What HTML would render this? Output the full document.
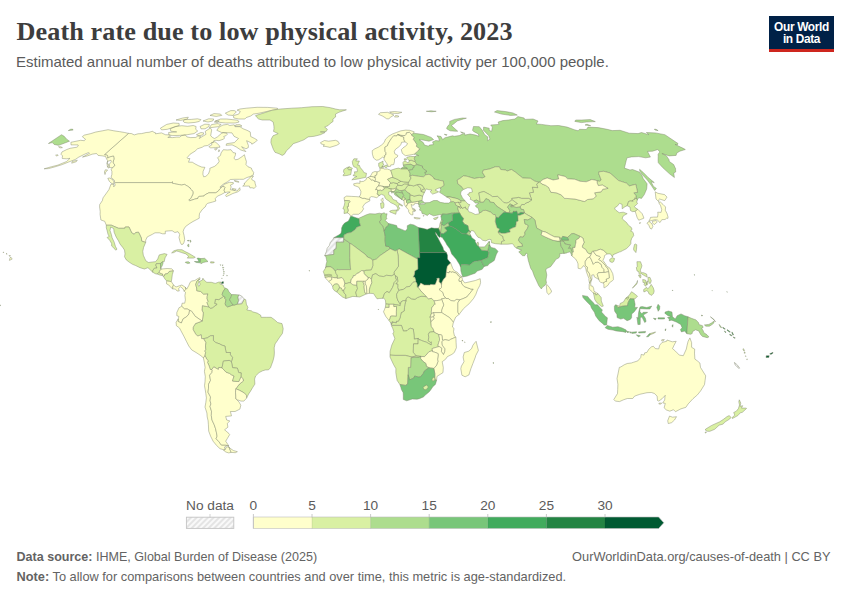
<!DOCTYPE html>
<html lang="en">
<head>
<meta charset="utf-8">
<title>Death rate due to low physical activity, 2023</title>
<style>
html,body{margin:0;padding:0;background:#fff;}
body{width:850px;height:600px;position:relative;overflow:hidden;font-family:"Liberation Sans",sans-serif;color:#5b5b5b;}
#title{position:absolute;left:16.5px;top:14.6px;font-family:"Liberation Serif",serif;font-weight:bold;font-size:26.2px;line-height:34px;color:#3d3d3d;white-space:nowrap;letter-spacing:0.1px;}
#sub{position:absolute;left:16px;top:52.7px;font-size:15px;line-height:18px;color:#5b5b5b;white-space:nowrap;}
#logo{position:absolute;left:769px;top:16px;width:65px;height:36px;background:#002147;border-bottom:3px solid #ce261e;box-sizing:border-box;color:#fff;font-weight:bold;font-size:11.9px;line-height:12px;text-align:center;padding-top:5px;letter-spacing:-0.35px;}
#map{position:absolute;left:0;top:0;}
.ft{position:absolute;font-size:12.8px;line-height:16px;white-space:nowrap;color:#636363;}
.ft b{font-weight:bold;}
</style>
</head>
<body>
<svg id="map" width="850" height="600" viewBox="0 0 850 600">
<defs>
<pattern id="h" width="4" height="4" patternUnits="userSpaceOnUse" patternTransform="rotate(45)"><rect width="4" height="4" fill="#f9f9f9"/><line x1="1" y1="0" x2="1" y2="4" stroke="#d6d6d6" stroke-width="1.2"/></pattern>
</defs>
<g stroke="#7d846a" stroke-width="0.45" stroke-linejoin="round">
<path fill="#ffffcc" d="M128.5,133.4L131.6,133.6L134.2,134.9L138.0,133.8L141.6,133.6L146.2,132.5L149.0,132.3L152.7,131.2L153.4,132.1L155.7,132.9L155.5,133.8L161.5,132.9L165.4,134.7L169.4,134.9L170.6,136.3L167.8,137.4L172.7,137.6L176.5,137.1L179.9,137.1L181.2,135.8L185.3,134.9L186.9,136.9L190.6,137.6L195.9,137.4L198.0,135.8L200.8,136.5L199.2,138.5L201.7,136.9L206.0,134.3L205.2,131.4L209.1,128.8L210.5,128.2L211.7,129.9L211.1,133.2L210.7,135.8L212.7,137.6L214.6,138.5L217.4,136.9L221.2,133.6L223.1,132.7L226.9,133.2L227.3,134.3L225.8,135.8L223.7,136.5L224.6,138.0L223.5,139.2L219.0,140.7L215.9,140.3L213.8,140.7L213.7,142.1L211.3,143.0L207.8,145.5L204.0,146.0L202.3,147.2L197.5,148.8L195.0,151.2L190.1,154.2L187.1,157.8L187.7,158.5L189.9,158.5L188.5,162.2L192.3,162.2L195.0,163.9L198.7,165.8L201.8,167.1L204.9,167.3L203.1,171.3L202.9,174.3L203.7,176.8L205.9,176.3L208.5,173.8L209.9,170.0L209.8,168.3L214.7,166.3L217.5,163.9L219.1,161.5L218.5,159.0L217.4,157.8L220.5,155.4L221.0,153.0L223.3,149.7L227.3,150.0L231.0,149.7L233.1,152.6L235.6,153.0L235.3,155.4L234.0,158.1L235.4,159.8L238.0,159.3L242.1,156.6L244.4,154.7L245.2,157.8L246.4,161.5L246.0,164.6L248.0,166.8L251.4,168.1L252.0,170.0L253.7,172.5L253.2,175.0L250.8,176.3L247.0,177.5L243.4,179.3L239.4,179.3L234.5,179.3L230.4,179.5L227.5,181.8L223.8,183.8L220.0,186.9L220.4,187.7L224.7,184.1L229.3,182.3L233.3,182.6L233.3,183.8L230.4,185.1L231.0,186.4L231.0,187.7L230.3,189.7L232.8,190.2L235.7,190.7L237.1,191.0L239.7,187.7L240.2,190.2L237.4,192.0L232.8,193.5L229.2,195.3L226.3,196.6L225.6,195.3L227.0,193.8L230.2,192.0L228.1,192.0L226.0,192.3L224.9,192.5L224.5,191.2L223.8,190.7L224.9,187.4L224.2,186.6L222.4,186.6L219.9,188.9L218.5,190.7L217.2,192.0L215.5,192.8L208.9,192.8L206.9,193.8L204.5,195.1L204.0,196.1L199.1,196.4L198.2,197.1L197.9,198.4L194.5,199.2L189.7,200.8L188.7,200.0L190.5,198.7L191.1,197.7L192.9,194.1L193.0,191.8L191.7,190.0L190.4,188.9L190.1,187.9L187.4,186.1L184.3,184.3L181.7,185.1L179.3,184.6L176.1,184.1L174.4,183.6L172.3,183.3L172.4,181.8L171.4,182.6L115.5,182.6L114.8,183.3L114.2,180.0L111.0,177.5L111.9,174.3L111.9,171.3L111.0,169.3L112.8,167.6L114.9,165.1L113.4,163.2L113.0,162.2L114.0,159.0L113.8,157.3L113.6,156.1L110.8,156.6L107.5,158.1L107.8,155.9L107.2,155.2L104.4,154.7L128.5,133.4ZM113.5,184.1L111.1,183.1L109.3,181.3L107.8,178.3L109.6,178.0L112.5,179.5L113.9,181.8ZM105.0,174.5L104.4,172.0L105.3,169.8L107.6,170.0L105.6,172.3ZM242.7,186.1L245.0,183.8L244.0,183.8L248.6,178.8L251.4,176.3L253.5,176.0L251.6,178.8L252.2,180.0L254.8,181.3L255.2,183.6L256.0,186.4L254.2,188.4L252.0,187.7L249.9,187.9L249.4,186.1L246.3,186.1ZM232.4,188.4L236.2,189.2L234.9,190.2L232.0,189.4ZM234.3,180.3L238.7,181.6L238.8,182.3L234.7,181.3ZM245.9,151.6L240.8,150.0L236.2,146.9L232.1,144.9L226.0,145.3L226.6,143.7L234.3,142.6L238.5,138.5L234.0,136.3L232.0,132.9L227.2,132.7L221.6,132.5L216.8,130.3L219.0,127.1L223.0,125.0L227.5,124.4L229.8,125.5L234.2,124.8L235.1,126.7L239.9,126.7L243.2,128.8L247.0,130.3L250.2,131.9L250.5,134.0L250.7,136.5L254.7,138.5L257.3,140.1L255.4,142.1L251.8,144.2L251.5,143.0L246.6,140.7L248.4,145.5L248.3,147.6L245.9,148.8L241.6,146.7L244.6,150.2ZM168.8,134.7L172.1,135.6L179.9,135.4L187.2,134.7L194.1,133.6L197.7,131.0L195.7,129.3L196.1,126.5L193.2,125.5L187.5,126.3L181.8,125.7L175.3,126.5L170.2,128.8L170.8,131.2L176.7,131.9L168.6,132.5ZM160.4,128.2L161.6,129.9L167.3,129.3L179.2,125.5L179.1,123.4L173.3,123.0L166.7,124.4ZM183.0,121.0L184.2,122.4L188.2,123.0L195.1,122.4L199.4,121.4L200.9,119.6L197.4,118.8L191.3,119.4L184.9,119.6ZM239.1,122.0L235.1,123.0L225.7,123.0L220.0,122.4L215.3,121.0L220.6,119.0L226.7,119.0L232.2,119.6L237.7,120.2ZM244.9,119.0L238.8,119.0L233.8,118.0L233.4,115.6L238.7,114.1L240.3,111.5L237.1,110.1L239.9,109.0L246.4,108.2L257.1,107.3L267.8,107.4L277.3,108.2L278.0,109.0L271.9,110.3L266.6,111.5L259.2,113.2L253.3,114.1L250.7,116.0L246.2,117.6ZM232.9,115.4L228.2,115.1L225.3,113.2L230.8,110.6L234.3,110.6L236.4,111.8ZM209.3,127.8L218.3,126.7L221.2,124.4L217.3,123.6L211.5,124.6ZM200.1,126.5L201.0,128.8L205.1,128.8L208.9,126.5L209.3,124.4L204.8,124.2ZM196.4,134.7L198.9,135.8L203.0,134.9L203.8,132.9L200.9,132.5ZM211.7,142.6L214.9,141.7L216.6,143.0L219.3,145.5L220.0,147.2L215.3,147.6L210.7,147.9L208.8,146.7L211.8,144.9ZM203.0,121.0L208.0,122.0L212.7,121.0L213.8,119.0L208.7,118.8ZM176.0,120.0L180.7,120.4L187.3,119.0L188.3,117.2L182.7,118.0ZM210.0,115.4L216.2,116.4L221.8,115.4L220.5,114.1L214.0,113.6ZM214.2,122.0L217.5,122.6L219.2,121.0L216.3,120.8ZM235.8,124.8L239.9,124.6L242.0,126.1L238.6,126.3L234.8,126.1ZM214.5,148.8L217.4,148.6L215.4,150.2ZM219.0,149.7L219.6,151.2L218.4,151.6Z"/>
<path fill="#ffffcc" d="M115.5,182.6L171.4,182.6L172.4,181.8L172.3,183.3L174.4,183.6L176.1,184.1L179.3,184.6L181.7,185.1L184.3,184.3L187.4,186.1L190.1,187.9L190.4,188.9L191.7,190.0L193.0,191.8L192.9,194.1L191.1,197.7L190.5,198.7L188.7,200.0L189.7,200.8L194.5,199.2L197.9,198.4L198.2,197.1L199.1,196.4L204.0,196.1L204.5,195.1L206.9,193.8L208.9,192.8L215.5,192.8L217.2,192.0L218.5,190.7L219.9,188.9L222.4,186.6L224.2,186.6L224.9,187.4L223.8,190.7L224.5,191.2L224.9,192.5L221.1,194.6L217.5,196.1L215.2,198.7L215.9,201.0L212.4,202.1L207.8,203.3L206.4,204.4L205.2,207.0L202.9,208.8L201.3,210.9L199.5,213.5L199.2,216.1L199.3,218.2L196.8,219.5L193.0,221.5L189.9,223.4L185.6,226.5L183.9,229.1L183.1,231.7L184.1,235.6L184.7,239.6L183.9,242.7L183.0,244.2L181.4,244.5L180.2,242.2L179.0,237.5L179.7,234.3L178.0,231.7L174.9,232.5L172.1,230.7L168.7,230.9L165.3,231.2L165.3,233.8L162.5,233.8L159.4,232.8L155.0,232.8L152.4,234.3L147.3,236.9L145.7,240.1L145.7,242.4L141.7,241.1L141.4,238.2L140.0,235.1L138.5,232.2L135.7,232.5L134.2,234.3L131.7,232.8L129.0,227.0L125.2,227.0L124.8,228.3L118.6,228.3L111.3,225.2L106.3,225.2L104.7,221.3L100.9,220.0L100.1,214.5L100.2,211.4L99.6,207.0L99.7,204.6L102.4,200.5L103.0,197.9L108.9,189.7L111.0,184.1L113.9,184.6L113.7,186.9L115.2,185.1L114.8,183.3ZM128.5,133.4L124.7,132.5L119.3,131.6L113.9,130.8L108.1,129.7L102.4,130.8L95.5,132.1L90.8,133.6L84.4,135.1L82.4,136.5L83.7,138.0L85.5,139.2L84.3,140.7L80.6,140.3L70.9,142.3L71.0,144.9L78.0,144.9L78.3,146.0L76.9,147.2L70.1,148.3L66.8,149.5L62.0,151.9L60.9,154.2L62.6,155.9L62.2,157.8L62.3,158.5L66.7,158.8L70.0,158.3L66.6,161.5L57.9,165.1L51.2,166.8L44.1,168.8L48.5,168.6L55.1,166.8L62.2,164.6L68.9,161.9L75.2,159.5L78.8,157.1L84.7,154.2L88.4,152.6L89.5,153.3L82.5,157.1L87.5,155.9L92.1,154.2L96.5,153.5L98.1,155.4L102.3,155.9L105.5,156.4L106.6,159.0L107.7,160.7L107.1,163.4L107.3,166.3L110.1,167.6L112.8,167.6L114.9,165.1L113.4,163.2L113.0,162.2L114.0,159.0L113.8,157.3L113.6,156.1L110.8,156.6L107.5,158.1L107.8,155.9L107.2,155.2L104.4,154.7L128.5,133.4ZM58.5,146.7L59.9,147.9L62.4,147.6L60.6,146.7ZM72.2,161.5L77.3,160.2L76.3,161.7L71.7,163.2ZM57.6,154.7L58.2,155.4L56.5,155.9L55.6,155.2ZM111.0,160.2L111.3,161.9L109.1,164.4L107.1,163.9L107.4,161.5ZM109.3,164.6L109.6,166.3L108.7,168.1L107.3,167.1ZM9.4,260.4L12.2,259.1L10.7,257.0L9.9,258.3ZM9.0,255.5L10.5,255.7L9.5,256.3ZM6.0,253.9L7.1,254.2L6.6,253.4ZM3.0,252.3L3.7,252.1L3.5,252.9Z"/>
<path fill="#d9f0a3" d="M255.5,115.6L265.8,112.3L271.9,110.3L280.1,109.0L291.8,108.2L301.7,107.7L311.9,106.7L322.7,106.5L330.4,107.7L335.5,109.0L339.5,109.8L346.4,109.8L338.9,112.3L335.5,114.1L335.6,117.0L332.9,119.0L333.1,121.4L330.3,123.4L328.2,125.5L324.7,127.1L327.4,129.3L326.2,131.4L320.3,131.9L325.1,132.5L320.5,134.7L314.2,136.3L308.1,136.9L303.9,139.8L298.0,142.1L293.2,143.7L290.3,147.2L286.5,150.7L284.4,154.2L282.2,155.4L279.1,153.8L275.0,152.3L273.4,149.5L272.1,146.0L270.9,142.6L271.2,139.2L273.0,135.8L278.2,133.6L273.5,131.4L274.0,128.8L273.9,126.1L273.2,122.0L270.0,120.0L262.3,120.0L258.6,119.0L256.9,117.4Z"/>
<path fill="#d9f0a3" d="M106.3,225.2L111.3,225.2L118.6,228.3L124.8,228.3L125.2,227.0L129.0,227.0L131.7,232.8L134.2,234.3L135.7,232.5L138.5,232.2L140.0,235.1L141.4,238.2L141.7,241.1L145.7,242.4L143.6,247.4L142.8,251.3L143.3,255.2L144.7,258.3L145.9,260.9L148.6,262.5L152.1,262.0L155.5,261.7L157.7,259.1L159.2,254.9L164.5,253.6L167.1,254.4L165.1,257.8L164.2,261.7L162.8,261.7L160.8,263.0L160.5,263.6L156.4,263.6L155.8,265.1L157.0,268.0L154.3,268.3L152.9,270.3L152.7,272.2L150.0,269.6L147.9,267.7L144.4,269.0L140.0,267.7L135.7,265.6L132.5,264.3L129.4,262.3L126.3,259.9L124.5,256.8L125.0,253.9L124.5,250.0L122.7,247.4L120.0,244.0L118.5,240.9L116.1,236.9L114.1,232.2L113.7,228.6L110.7,227.0L110.0,230.4L111.3,234.3L112.1,237.7L114.2,242.2L115.5,246.6L117.0,249.2L115.7,250.2L115.0,249.2L111.7,246.1L111.6,243.5L109.7,240.3L107.1,237.5L109.2,236.4L108.0,234.3L107.2,230.9L106.3,227.8Z"/>
<path fill="#d9f0a3" d="M152.7,272.2L155.3,273.7L157.3,274.1L159.0,272.4L159.6,271.1L159.7,270.6L161.9,269.0L160.6,268.5L160.5,263.6L156.4,263.6L155.8,265.1L157.0,268.0L154.3,268.3L152.9,270.3Z"/>
<path fill="#addd8e" d="M160.5,263.6L160.8,263.0L162.8,261.7L163.1,263.0L162.3,265.6L160.6,268.5Z"/>
<path fill="#d9f0a3" d="M157.3,274.1L159.7,275.0L162.4,275.6L162.8,274.0L161.0,273.5L159.0,272.4Z"/>
<path fill="#ffffcc" d="M159.6,271.1L159.0,272.4L161.0,273.5L162.8,274.0L162.4,275.6L163.3,276.1L164.2,276.1L165.1,274.0L167.4,273.7L169.4,271.4L173.4,270.9L173.0,270.1L171.7,268.8L167.2,268.5L163.8,268.8L161.9,269.0L159.7,270.6Z"/>
<path fill="#d9f0a3" d="M163.3,276.3L163.3,276.1L164.2,276.1L165.1,274.0L167.4,273.7L169.4,271.4L173.4,270.9L172.3,274.8L171.8,278.7L171.3,281.6L169.1,281.3L166.8,281.0L165.1,279.2Z"/>
<path fill="#ffffcc" d="M166.8,281.0L169.1,281.3L171.3,281.6L173.6,285.0L172.9,286.3L172.7,288.9L171.2,287.8L168.8,285.0L166.6,283.9L166.5,281.6Z"/>
<path fill="#ffffcc" d="M172.7,288.9L172.9,286.3L173.6,285.0L176.0,287.0L179.6,285.7L181.9,285.0L185.4,287.3L185.8,289.4L184.1,291.2L183.1,288.9L180.6,286.8L178.5,288.6L179.3,291.0L177.0,291.0L175.5,289.1Z"/>
<path fill="#d9f0a3" d="M171.6,252.9L173.9,250.8L177.5,249.7L182.0,249.7L185.1,251.6L188.3,253.1L191.5,254.9L195.3,257.3L193.4,258.1L187.3,258.1L188.6,256.3L185.9,253.9L181.6,252.6L178.8,251.6L176.6,251.0L173.7,252.6Z"/>
<path fill="#addd8e" d="M185.5,262.0L188.4,261.7L190.1,263.0L187.8,263.6L185.4,262.5Z"/>
<path fill="#78c679" d="M194.4,261.5L196.3,262.5L199.7,262.8L200.4,262.3L200.6,258.6L198.4,258.1L197.0,258.3L198.2,259.9L198.9,261.5Z"/>
<path fill="#addd8e" d="M200.6,258.6L204.7,258.3L208.0,261.5L205.4,262.0L203.1,262.5L200.9,263.8L200.4,262.3Z"/>
<path fill="#d9f0a3" d="M210.7,261.7L214.3,262.0L213.7,263.0L210.6,263.0Z"/>
<path fill="#addd8e" d="M187.9,244.5L188.8,244.2L188.9,246.9L187.6,246.1ZM187.2,240.6L189.2,240.3L189.1,241.1ZM190.2,240.1L191.1,240.9L190.4,242.4Z"/>
<path fill="#005a32" d="M221.2,283.6L222.0,281.8L223.6,281.8L223.3,283.6Z"/>
<path fill="#d9f0a3" d="M244.2,299.0L245.8,299.8L246.4,304.3L248.0,307.4L246.8,310.0L251.4,310.8L252.6,311.8L257.2,313.1L260.7,315.2L261.1,317.3L266.4,317.3L271.1,317.3L274.5,319.7L277.6,322.5L282.0,323.6L283.2,328.8L282.4,333.5L279.5,337.4L277.3,340.8L275.1,343.9L274.2,347.8L274.4,353.1L274.1,356.4L273.0,360.9L271.1,366.1L270.7,367.4L268.6,369.8L265.2,370.0L262.6,370.8L259.1,372.6L255.6,376.0L254.6,379.1L254.9,384.1L252.5,387.8L250.4,391.4L248.6,394.0L246.6,398.1L246.4,395.3L244.5,393.2L242.0,391.7L239.6,390.4L235.8,388.8L239.4,384.1L243.4,381.0L242.9,378.6L240.9,376.8L241.2,372.9L238.7,372.6L237.4,368.2L232.6,367.7L231.4,361.7L232.6,357.5L230.4,354.9L230.4,352.5L226.1,352.5L224.9,346.0L221.9,345.2L219.6,343.9L215.8,342.6L213.4,340.5L213.4,335.6L210.4,335.8L207.3,337.9L203.7,338.6L201.6,338.7L201.2,334.8L197.6,336.1L195.6,334.0L193.1,329.6L193.2,327.2L195.4,323.6L202.3,321.0L203.3,312.9L201.9,310.0L202.1,308.4L202.4,305.6L208.8,306.9L210.4,308.2L212.2,307.9L217.1,304.3L214.6,303.5L215.4,299.3L218.8,299.6L223.5,296.4L225.1,297.0L224.8,298.3L226.0,299.8L225.2,303.5L225.6,305.3L227.7,306.9L233.0,305.0L234.4,305.0L237.6,304.0L241.8,303.7Z"/>
<path fill="#ffffcc" d="M185.4,287.3L186.7,289.1L188.7,285.7L190.1,282.3L191.8,281.0L194.8,280.5L197.6,278.7L200.0,277.6L199.9,279.2L198.3,279.7L197.0,281.0L195.7,284.4L196.7,288.1L196.8,290.7L200.7,291.5L203.6,294.1L207.9,293.8L207.2,296.2L207.1,298.8L208.2,301.4L207.0,302.7L208.8,306.9L202.4,305.6L202.1,308.4L201.9,310.0L203.3,312.9L202.3,321.0L200.4,319.9L195.2,316.3L191.7,311.3L189.6,310.3L187.3,309.0L184.6,309.0L181.6,306.3L182.1,303.2L184.7,303.2L185.4,299.8L184.9,295.6L185.5,292.3L184.1,291.2L185.8,289.4Z"/>
<path fill="#d9f0a3" d="M199.9,279.2L198.4,280.8L199.3,281.6L202.4,280.0L202.9,278.2L204.0,280.0L206.8,282.3L211.4,282.3L215.2,283.4L218.8,282.1L221.3,282.1L219.8,283.9L223.2,285.2L224.2,287.8L225.4,288.1L223.7,290.7L222.7,292.5L222.2,294.6L223.5,296.4L218.8,299.6L215.4,299.3L214.6,303.5L217.1,304.3L212.2,307.9L210.4,308.2L208.8,306.9L207.0,302.7L208.2,301.4L207.1,298.8L207.2,296.2L207.9,293.8L203.6,294.1L200.7,291.5L196.8,290.7L196.7,288.1L195.7,284.4L197.0,281.0L198.3,279.7Z"/>
<path fill="#ffffff" d="M199.1,281.6L199.9,283.1L200.0,285.0L198.8,286.3L198.0,285.0L198.3,282.9Z"/>
<path fill="#addd8e" d="M222.2,264.9L223.1,264.9L222.6,265.6ZM222.5,267.2L223.8,267.5L223.1,268.3ZM223.0,269.3L223.6,269.6L223.4,270.3ZM223.5,271.4L224.4,271.6L223.9,272.4ZM223.6,273.5L224.3,273.7L223.8,274.3ZM226.7,275.3L227.4,275.6L226.9,276.1ZM223.0,275.0L223.5,275.3L223.2,275.8ZM221.7,278.2L222.2,278.2L221.9,278.7ZM220.2,264.6L220.8,264.9L220.6,265.4Z"/>
<path fill="#addd8e" d="M225.4,288.1L227.6,289.1L229.1,292.0L231.6,294.6L231.3,296.4L229.6,299.6L230.5,301.4L233.0,305.0L227.7,306.9L225.6,305.3L225.2,303.5L226.0,299.8L224.8,298.3L225.1,297.0L223.5,296.4L222.2,294.6L222.7,292.5L223.7,290.7Z"/>
<path fill="#addd8e" d="M231.6,294.6L234.6,294.6L239.0,294.9L238.0,297.0L238.6,300.6L237.6,304.0L234.4,305.0L233.0,305.0L230.5,301.4L229.6,299.6L231.3,296.4Z"/>
<path fill="url(#h)" d="M239.0,294.9L241.5,295.9L244.2,299.0L241.8,303.7L237.6,304.0L238.6,300.6L238.0,297.0Z"/>
<path fill="#ffffcc" d="M181.6,306.3L184.6,309.0L187.3,309.0L189.6,310.3L189.0,313.9L186.5,316.8L183.1,318.9L181.4,323.0L178.1,321.5L178.3,318.9L178.9,316.5L176.8,315.7L176.8,312.6L178.6,308.7L178.8,307.9Z"/>
<path fill="#ffffcc" d="M178.3,318.9L178.1,321.5L181.4,323.0L183.1,318.9L186.5,316.8L189.0,313.9L189.6,310.3L191.7,311.3L195.2,316.3L200.4,319.9L202.3,321.0L195.4,323.6L193.2,327.2L193.1,329.6L195.6,334.0L197.6,336.1L201.2,334.8L201.6,338.7L203.7,338.6L206.0,342.6L205.5,345.7L205.8,349.7L204.8,351.0L205.6,352.3L205.0,355.7L203.4,357.9L200.9,355.7L197.0,353.1L191.7,349.9L188.8,346.0L186.4,341.3L183.8,336.1L181.0,330.9L179.5,328.0L176.4,325.7L176.1,322.3Z"/>
<path fill="#d9f0a3" d="M203.7,338.6L207.3,337.9L210.4,335.8L213.4,335.6L213.4,340.5L215.8,342.6L219.6,343.9L221.9,345.2L224.9,346.0L226.1,352.5L230.4,352.5L230.4,354.9L232.6,357.5L231.4,361.7L229.2,360.4L223.4,361.1L222.0,367.9L218.8,367.4L218.4,369.5L213.8,366.9L211.8,369.5L210.2,369.5L209.2,366.1L207.5,362.4L208.2,360.6L206.7,359.3L205.2,355.9L205.0,355.7L205.6,352.3L204.8,351.0L205.8,349.7L205.5,345.7L206.0,342.6Z"/>
<path fill="#ffffcc" d="M203.4,357.9L204.3,362.2L205.1,367.4L204.4,371.3L205.3,376.5L205.0,381.8L204.5,385.7L205.2,389.6L205.8,393.5L206.4,397.9L205.8,402.6L205.0,407.1L206.9,413.0L207.2,416.9L208.1,420.8L208.4,424.7L208.7,431.1L210.6,436.2L213.1,441.2L216.6,445.5L220.0,448.7L224.5,450.0L225.2,449.5L224.4,447.2L226.5,445.7L228.7,445.7L225.2,445.0L221.3,445.0L218.9,441.7L216.1,438.7L217.1,436.2L216.5,432.9L215.5,428.5L214.2,424.7L212.0,420.0L211.3,415.6L211.5,411.2L210.0,406.5L210.9,403.9L210.1,400.8L210.5,396.9L208.0,392.2L208.5,388.3L208.5,384.4L210.5,380.4L209.6,375.2L211.9,372.6L212.3,370.0L211.8,369.5L210.2,369.5L209.2,366.1L207.5,362.4L208.2,360.6L206.7,359.3L205.2,355.9L205.0,355.7ZM228.7,446.7L226.1,447.0L225.5,449.2L223.5,450.0L225.4,451.9L228.7,452.9L231.2,452.4Z"/>
<path fill="#ffffcc" d="M212.3,370.0L211.9,372.6L209.6,375.2L210.5,380.4L208.5,384.4L208.5,388.3L208.0,392.2L210.5,396.9L210.1,400.8L210.9,403.9L210.0,406.5L211.5,411.2L211.3,415.6L212.0,420.0L214.2,424.7L215.5,428.5L216.5,432.9L217.1,436.2L216.1,438.7L218.9,441.7L221.3,445.0L225.2,445.0L228.7,445.7L225.7,441.2L227.5,438.2L229.7,434.6L229.0,433.6L224.6,429.8L227.9,427.2L227.3,423.4L229.8,421.0L226.7,420.0L225.7,416.4L231.5,415.9L230.4,411.5L235.1,411.5L239.9,409.1L240.8,405.2L239.1,402.1L235.8,398.7L235.8,396.1L235.5,392.2L235.8,388.8L239.4,384.1L243.4,381.0L242.9,378.6L240.9,376.8L238.8,381.5L237.2,381.5L232.5,381.0L234.1,376.0L231.3,374.7L229.6,373.4L226.0,372.1L222.0,367.9L218.8,367.4L218.4,369.5L213.8,366.9L211.8,369.5ZM228.7,446.7L229.9,448.2L233.4,450.5L237.4,451.7L235.3,452.7L231.2,452.4Z"/>
<path fill="#ffffcc" d="M235.8,388.8L239.6,390.4L242.0,391.7L244.5,393.2L246.4,395.3L246.6,398.1L243.9,401.1L241.0,401.1L237.3,399.8L235.8,398.7L235.8,396.1L235.5,392.2Z"/>
<path fill="#d9f0a3" d="M222.0,367.9L223.4,361.1L229.2,360.4L231.4,361.7L232.6,367.7L237.4,368.2L238.7,372.6L241.2,372.9L240.9,376.8L238.8,381.5L237.2,381.5L232.5,381.0L234.1,376.0L231.3,374.7L229.6,373.4L226.0,372.1Z"/>
<path fill="#addd8e" d="M413.1,133.2L418.2,133.8L423.5,134.5L431.2,137.4L433.6,139.6L429.0,141.2L421.7,139.8L419.0,139.6L423.3,142.6L424.5,145.1L428.7,146.2L429.3,145.1L433.5,144.6L432.6,141.9L435.7,140.5L439.3,141.0L438.7,138.0L437.0,135.8L441.0,136.5L442.7,139.6L444.9,137.8L452.5,135.8L454.4,136.3L459.2,135.6L463.9,133.4L464.5,132.9L464.8,135.1L470.1,134.0L475.7,135.1L478.9,136.3L478.4,134.0L473.5,131.4L472.5,130.3L473.5,126.5L479.3,126.7L482.3,130.3L484.7,134.7L487.8,136.9L487.5,140.7L490.0,139.2L488.8,135.8L483.5,130.3L483.6,127.1L489.2,128.2L489.2,130.3L491.6,131.4L492.4,127.1L490.7,125.0L498.9,124.4L498.2,122.0L502.9,120.6L508.4,120.0L514.9,119.0L517.9,116.6L524.2,118.0L524.5,119.4L533.1,119.0L538.0,121.0L536.3,124.0L541.5,124.4L550.9,125.7L558.6,125.5L567.1,127.1L574.3,129.7L578.1,130.8L579.5,129.3L586.3,129.5L588.0,127.1L598.2,127.6L607.1,129.3L612.2,130.6L620.1,130.3L629.2,133.2L638.1,133.6L641.5,132.5L648.9,134.7L646.4,132.5L655.4,132.9L664.9,134.7L678.0,143.5L677.4,144.9L675.0,144.4L683.2,148.3L685.3,149.5L679.8,151.2L676.8,153.0L676.1,155.4L669.3,155.9L661.9,153.5L666.3,155.7L669.4,160.2L668.7,161.0L673.7,164.6L675.0,167.6L675.5,168.1L675.7,172.0L673.7,173.0L674.4,177.5L669.5,173.8L662.7,167.6L658.3,162.7L658.1,160.7L658.2,156.6L658.1,154.2L659.8,151.9L657.8,149.5L652.6,151.2L647.5,151.4L650.4,157.1L645.6,157.8L638.7,156.6L631.6,156.9L627.0,157.8L626.2,160.7L625.4,163.9L624.4,168.1L630.0,170.0L632.5,169.5L639.1,172.0L641.7,175.0L643.3,178.8L647.1,183.8L646.7,188.9L644.3,194.6L641.5,198.4L638.7,197.7L637.4,199.7L637.1,199.5L636.3,198.2L635.8,195.3L633.8,192.8L637.6,192.3L635.8,184.3L629.3,185.9L626.4,183.1L618.6,180.6L610.0,173.0L603.8,171.3L598.9,171.8L598.7,173.5L601.2,180.0L599.7,181.3L597.0,180.6L591.9,179.5L586.3,181.8L580.0,181.3L574.8,179.3L567.5,178.8L565.2,176.5L557.8,174.8L558.7,179.0L553.2,180.0L547.2,178.0L543.0,179.5L539.8,182.1L538.9,182.3L534.7,181.1L530.4,178.3L522.7,178.0L515.0,171.8L511.4,169.5L507.3,171.0L505.4,170.0L500.7,169.5L499.3,166.8L495.3,166.8L489.5,169.0L483.5,170.0L482.4,172.3L485.1,176.8L482.3,178.0L479.4,177.5L474.3,178.5L467.1,176.3L463.4,175.8L460.0,178.5L457.2,180.0L457.8,183.8L461.4,186.4L463.6,189.4L461.0,191.5L460.6,194.1L462.5,197.9L465.2,201.0L461.0,200.8L457.4,198.7L454.1,197.9L449.7,196.9L446.6,196.9L443.1,194.6L439.5,192.3L441.0,188.9L439.9,188.4L441.1,187.4L443.9,185.4L443.4,181.1L439.3,180.3L434.0,179.0L433.5,177.5L431.1,175.5L429.1,174.3L425.8,174.8L424.6,172.3L427.0,171.5L422.6,168.1L422.4,166.1L416.9,164.6L415.8,162.9L414.8,161.5L414.9,160.7L414.2,158.3L415.0,156.6L416.6,155.4L418.8,155.7L415.6,154.2L414.1,154.2L417.5,151.4L419.6,148.8L416.4,146.5L416.7,144.2L414.6,141.2L413.1,139.2L414.2,137.6L411.2,134.9L411.8,134.7L413.1,133.2ZM61.5,134.7L64.2,136.3L66.7,139.2L69.5,141.2L59.3,145.1L58.1,145.3L54.1,144.4L52.3,142.6L48.4,143.5ZM401.1,169.0L401.7,167.8L403.9,166.8L407.1,167.8L407.3,169.0ZM446.7,128.8L450.1,130.8L455.3,131.2L457.7,131.2L453.1,127.1L451.4,125.5L454.2,123.6L457.2,121.0L463.3,119.0L466.4,118.2L462.5,118.0L454.5,119.4L449.7,121.4L449.8,124.0L448.2,125.5L446.9,127.6ZM501.5,114.1L510.5,115.4L517.3,115.1L512.9,112.9L505.2,111.5L497.0,110.6L494.5,112.0ZM574.8,121.4L581.4,122.6L586.6,122.0L595.3,121.6L590.2,119.6L581.8,120.0L575.7,120.0ZM585.0,125.0L590.7,125.7L587.0,124.2ZM655.2,130.1L658.1,130.6L655.9,129.3L654.3,129.3ZM68.3,130.6L73.1,130.1L72.5,129.1L70.5,129.3ZM654.7,190.5L656.4,188.4L653.5,186.4L651.0,181.8L654.3,182.6L648.2,177.5L643.3,172.5L639.6,169.3L639.8,171.3L642.7,175.0L647.3,180.0L651.1,185.1ZM426.3,111.3L431.6,111.8L436.2,111.3L430.9,110.8ZM444.3,134.3L447.0,134.7L446.4,135.4ZM460.6,131.9L463.5,132.7L462.1,133.2Z"/>
<path fill="#ffffcc" d="M320.5,142.6L324.4,140.5L328.6,141.2L335.6,140.3L338.1,141.4L339.4,143.7L336.7,145.3L329.9,147.4L326.0,146.5L323.0,146.2L324.5,144.9L321.1,143.9Z"/>
<path fill="#d9f0a3" d="M351.8,179.8L356.2,179.3L361.2,178.3L365.8,177.3L366.5,173.3L363.8,172.5L363.0,170.8L360.3,167.6L359.2,165.1L357.5,165.1L359.4,161.0L355.7,161.0L357.4,158.8L353.9,158.8L352.3,161.5L352.7,164.4L353.8,166.8L356.7,167.8L357.4,170.3L357.2,171.8L354.4,171.8L354.8,173.8L352.9,175.5L356.9,176.5L354.7,177.3ZM347.5,168.8L349.2,166.8L352.4,168.3L351.4,169.8L348.7,169.8Z"/>
<path fill="#d9f0a3" d="M343.4,175.8L347.0,175.5L350.8,174.5L351.3,171.3L351.4,169.8L348.7,169.8L347.5,168.8L349.2,166.8L346.8,167.6L343.8,169.5L343.5,171.8L344.5,173.8L342.9,175.0Z"/>
<path fill="#ffffcc" d="M359.4,196.9L360.7,194.1L360.9,191.2L358.7,187.1L353.9,185.4L353.7,183.8L357.1,183.1L360.0,183.3L359.8,180.8L361.2,181.6L363.6,181.3L366.2,179.5L366.6,177.8L368.2,177.3L369.2,178.0L371.6,180.0L372.8,179.8L374.8,181.3L376.0,181.3L379.7,182.6L378.6,186.1L377.4,186.6L375.7,189.7L377.1,189.2L377.6,190.5L377.6,192.3L377.1,194.1L379.2,195.1L378.8,195.9L376.8,197.7L373.6,196.9L371.5,196.6L369.7,197.7L369.7,199.5L366.8,199.2L364.7,198.4L362.2,198.4ZM381.2,199.5L382.8,197.9L383.2,200.5L382.6,202.1L381.3,200.8Z"/>
<path fill="#ffffcc" d="M359.4,196.9L355.9,196.6L351.7,196.4L346.5,196.1L344.0,197.7L344.5,200.5L346.0,200.5L349.3,200.8L350.1,201.5L348.6,203.1L348.3,206.5L347.2,206.7L348.2,210.3L347.3,212.9L349.4,214.0L350.2,215.6L351.1,216.1L353.5,214.3L358.5,214.3L361.7,211.9L363.6,208.8L362.6,207.0L364.9,203.6L369.9,200.8L369.7,199.5L366.8,199.2L364.7,198.4L362.2,198.4Z"/>
<path fill="#d9f0a3" d="M344.5,200.5L346.0,200.5L349.3,200.8L350.1,201.5L348.6,203.1L348.3,206.5L347.2,206.7L348.2,210.3L347.3,212.9L344.0,213.5L344.4,209.6L342.9,208.8L344.3,205.2L344.8,202.6Z"/>
<path fill="#ffffcc" d="M368.2,177.3L369.9,176.5L371.7,176.5L374.7,177.0L374.9,178.0L375.6,178.8L375.4,179.8L374.8,181.3L372.8,179.8L371.6,180.0L369.2,178.0Z"/>
<path fill="#ffffcc" d="M369.9,176.5L371.1,175.0L372.4,172.5L374.9,171.5L377.2,171.8L377.0,174.0L376.4,175.3L375.0,175.5L375.3,177.5L374.9,178.0L374.7,177.0L371.7,176.5Z"/>
<path fill="#ffffcc" d="M377.2,171.8L379.7,171.0L380.1,170.0L379.8,167.8L382.3,168.1L384.5,169.0L387.4,169.0L390.8,170.3L391.3,172.0L392.2,174.8L393.0,177.5L391.6,177.5L387.6,179.3L388.2,180.3L391.0,183.1L389.5,184.3L389.6,186.4L384.6,186.6L382.7,186.4L380.5,185.9L378.6,186.1L379.7,182.6L376.0,181.3L374.8,181.3L375.4,179.8L375.6,178.8L374.9,178.0L375.3,177.5L375.0,175.5L376.4,175.3L377.0,174.0Z"/>
<path fill="#d9f0a3" d="M379.8,167.8L378.7,166.1L378.7,163.2L381.1,162.2L383.1,161.0L382.8,163.6L383.9,164.1L382.4,166.3L381.7,167.6L382.3,168.1ZM384.4,165.8L387.0,164.9L387.4,166.6L386.3,167.8L384.7,167.1ZM382.0,166.3L383.7,166.3L383.8,167.3L382.4,167.3Z"/>
<path fill="#ffffcc" d="M375.7,189.7L377.1,189.2L377.6,190.5L380.7,190.2L381.7,190.7L383.9,189.4L384.6,187.9L382.7,186.4L380.5,185.9L378.6,186.1L377.4,186.6Z"/>
<path fill="#d9f0a3" d="M382.7,186.4L384.6,187.9L388.1,187.7L388.5,188.4L391.2,188.9L393.1,189.2L396.1,188.2L396.8,186.4L397.9,185.1L397.3,183.6L393.4,182.6L391.0,183.1L389.5,184.3L389.6,186.4L384.6,186.6Z"/>
<path fill="#d9f0a3" d="M378.8,195.9L379.2,195.1L377.1,194.1L377.6,192.3L377.6,190.5L380.7,190.2L381.7,190.7L383.9,189.4L384.6,187.9L388.1,187.7L388.5,188.4L391.2,188.9L391.4,191.2L388.6,192.0L388.9,194.8L391.5,196.6L393.0,199.5L396.8,200.8L396.9,202.1L402.5,205.4L402.3,206.2L399.2,204.4L398.5,206.5L399.7,208.3L397.7,211.1L396.8,210.3L397.8,208.3L396.5,205.7L393.9,204.1L390.6,202.6L388.9,201.0L386.5,199.5L385.1,197.9L384.4,195.6L381.4,194.3ZM389.8,211.1L392.1,210.3L396.6,210.1L395.8,214.3L389.8,211.9ZM380.5,203.3L381.1,208.3L382.4,208.3L383.7,207.5L384.0,204.4L383.5,202.6L382.6,202.6Z"/>
<path fill="#ffffcc" d="M391.2,188.9L393.1,189.2L396.1,188.2L397.0,188.9L395.4,189.7L394.7,191.5L391.2,191.5L391.4,191.2Z"/>
<path fill="#addd8e" d="M391.2,191.5L394.7,191.5L395.4,189.7L397.0,188.9L399.6,190.5L401.8,190.5L402.4,192.3L402.5,193.0L398.3,192.3L395.8,192.3L395.9,193.5L396.8,194.8L400.0,197.9L402.0,199.5L399.8,198.2L394.7,194.8L394.0,192.8L392.7,192.0L391.9,193.3Z"/>
<path fill="#addd8e" d="M395.8,192.3L398.3,192.3L402.5,193.0L403.4,194.6L403.9,195.3L403.2,196.6L402.0,199.0L402.0,199.5L400.0,197.9L396.8,194.8L395.9,193.5Z"/>
<path fill="#addd8e" d="M402.4,192.3L401.8,190.5L404.8,189.7L407.6,192.3L409.8,193.5L410.3,194.8L410.0,197.9L410.2,199.7L408.3,199.7L406.5,200.8L405.1,198.7L403.2,196.6L403.9,195.3L403.4,194.6L402.5,193.0Z"/>
<path fill="#d9f0a3" d="M402.0,199.5L402.0,199.0L403.2,196.6L405.1,198.7L404.0,200.8Z"/>
<path fill="#ffffcc" d="M404.0,200.8L405.1,198.7L406.5,200.8L406.5,202.3L407.6,203.6L407.0,205.7L405.7,206.5L404.3,204.6Z"/>
<path fill="#addd8e" d="M406.5,200.8L408.3,199.7L410.2,199.7L411.7,202.3L409.7,202.8L407.6,203.6L406.5,202.3Z"/>
<path fill="#ffffcc" d="M405.7,206.5L407.0,205.7L407.6,203.6L409.7,202.8L411.7,202.3L414.8,201.8L417.9,201.3L418.6,201.3L419.0,203.3L418.2,203.6L414.8,203.3L414.1,204.9L412.6,205.2L411.1,204.4L412.0,207.5L413.1,210.1L414.6,210.3L414.7,211.6L412.8,211.1L412.9,214.8L411.6,214.8L410.0,214.0L408.5,211.4L408.8,210.1L407.4,208.8ZM414.2,217.4L416.3,217.6L420.3,218.2L419.7,218.7L416.9,218.9L414.2,218.2ZM423.3,215.3L424.2,215.6L423.4,216.3ZM413.0,208.5L415.0,209.3L415.7,210.9L414.1,209.8Z"/>
<path fill="#d9f0a3" d="M410.2,199.7L410.0,197.9L410.3,194.8L414.2,196.1L419.3,195.1L422.7,196.1L422.0,200.5L418.6,201.3L417.9,201.3L414.8,201.8L411.7,202.3Z"/>
<path fill="#d9f0a3" d="M404.8,189.7L407.8,185.4L409.6,185.1L413.8,185.9L417.1,184.6L420.6,188.2L421.3,191.5L424.5,192.3L422.7,196.1L419.3,195.1L414.2,196.1L410.3,194.8L409.8,193.5L407.6,192.3Z"/>
<path fill="#d9f0a3" d="M417.1,184.6L419.9,184.3L422.4,185.4L424.8,189.2L422.6,189.4L421.3,191.5L420.6,188.2Z"/>
<path fill="#d9f0a3" d="M396.1,188.2L396.8,186.4L397.9,185.1L401.4,185.6L404.6,183.8L408.1,184.1L409.6,185.1L407.8,185.4L404.8,189.7L401.8,190.5L399.6,190.5L397.0,188.9Z"/>
<path fill="#d9f0a3" d="M397.3,183.6L397.9,185.1L401.4,185.6L404.6,183.8L408.1,184.1L408.7,182.3L403.6,181.8L400.9,181.3L397.9,182.8Z"/>
<path fill="#d9f0a3" d="M387.6,179.3L391.6,177.5L393.0,177.5L396.9,179.0L400.9,181.3L397.9,182.8L397.3,183.6L393.4,182.6L391.0,183.1L388.2,180.3Z"/>
<path fill="#d9f0a3" d="M390.8,170.3L395.1,168.8L398.5,168.1L401.1,169.0L407.3,169.0L408.8,170.3L410.1,173.3L409.9,176.3L411.1,178.0L408.7,182.3L403.6,181.8L400.9,181.3L396.9,179.0L393.0,177.5L392.2,174.8L391.3,172.0Z"/>
<path fill="#addd8e" d="M403.9,166.8L403.2,164.9L410.6,164.1L414.1,165.8L414.2,167.3L412.9,167.8L412.6,169.5L408.8,170.3L407.3,169.0L407.1,167.8Z"/>
<path fill="#d9f0a3" d="M403.2,164.9L402.9,162.7L404.0,161.2L405.7,161.0L407.1,162.7L409.1,162.2L409.0,160.5L411.2,160.2L414.8,161.5L415.8,162.9L416.9,164.6L414.1,165.8L410.6,164.1Z"/>
<path fill="#d9f0a3" d="M409.0,160.5L406.9,158.3L406.8,157.3L410.3,156.4L415.0,156.6L414.2,158.3L414.9,160.7L414.8,161.5L411.2,160.2ZM404.2,158.8L406.1,158.8L406.6,159.8L404.5,160.2Z"/>
<path fill="#addd8e" d="M408.8,170.3L412.6,169.5L412.9,167.8L414.2,167.3L414.1,165.8L416.9,164.6L422.4,166.1L422.6,168.1L427.0,171.5L424.6,172.3L425.8,174.8L423.6,176.8L418.6,176.3L412.5,175.3L409.9,176.3L410.1,173.3Z"/>
<path fill="#d9f0a3" d="M409.9,176.3L411.1,178.0L408.7,182.3L408.1,184.1L409.6,185.1L413.8,185.9L417.1,184.6L419.9,184.3L422.4,185.4L424.8,189.2L422.6,189.4L421.3,191.5L424.5,192.3L426.2,188.9L428.8,189.7L431.9,190.0L430.2,191.8L432.6,194.1L436.5,192.8L438.6,191.8L435.0,190.0L437.8,188.4L441.1,187.4L443.9,185.4L443.4,181.1L439.3,180.3L434.0,179.0L433.5,177.5L431.1,175.5L429.1,174.3L425.8,174.8L423.6,176.8L418.6,176.3L412.5,175.3Z"/>
<path fill="#ffffcc" d="M384.0,157.6L382.7,157.1L380.0,159.0L378.2,160.0L376.3,160.2L373.6,158.1L372.4,154.2L372.2,150.7L374.8,148.8L378.3,147.2L381.7,144.9L384.1,142.6L385.5,139.2L388.5,136.3L392.4,134.0L396.3,132.5L400.9,130.8L405.7,130.1L409.8,130.3L414.4,131.9L413.1,133.2L411.8,134.7L409.4,132.3L406.4,132.9L406.2,134.3L405.1,135.6L400.9,135.4L397.7,134.5L396.9,136.0L393.7,135.8L391.4,138.5L390.0,140.7L388.5,143.0L387.4,145.8L384.9,147.2L385.1,151.4L386.1,152.8L385.8,155.0L384.4,155.7L385.0,156.9ZM378.5,114.3L382.4,116.0L384.1,117.0L386.7,118.8L388.9,118.8L390.8,117.0L394.0,115.1L390.7,113.6L387.5,112.3L380.4,112.7ZM389.6,112.0L394.4,111.5L397.4,111.8L401.9,112.3L398.0,113.6L392.1,113.2ZM394.5,117.0L398.3,117.0L398.7,116.0L395.6,115.4Z"/>
<path fill="#ffffcc" d="M384.0,157.6L384.1,159.5L385.9,162.2L387.6,164.6L388.1,166.6L390.6,166.3L390.8,164.9L393.7,164.6L394.5,161.5L394.5,158.8L397.4,156.9L397.8,155.4L394.8,153.8L394.3,151.4L395.5,149.3L398.7,146.9L401.0,144.6L401.5,142.3L405.0,141.9L403.9,139.6L403.8,137.1L400.3,135.8L397.7,134.5L396.9,136.0L393.7,135.8L391.4,138.5L390.0,140.7L388.5,143.0L387.4,145.8L384.9,147.2L385.1,151.4L386.1,152.8L385.8,155.0L384.4,155.7L385.0,156.9Z"/>
<path fill="#ffffcc" d="M405.0,141.9L407.5,143.5L406.6,145.3L403.0,147.9L401.3,149.7L402.3,153.3L405.4,155.7L410.0,155.0L414.1,154.2L417.5,151.4L419.6,148.8L416.4,146.5L416.7,144.2L414.6,141.2L413.1,139.2L414.2,137.6L411.2,134.9L411.8,134.7L409.4,132.3L406.4,132.9L406.2,134.3L405.1,135.6L400.9,135.4L397.7,134.5L400.3,135.8L403.8,137.1L403.9,139.6Z"/>
<path fill="#addd8e" d="M418.6,201.3L422.0,200.5L424.4,202.6L423.4,203.1L421.3,203.3L418.8,205.2L418.2,203.6L419.0,203.3ZM418.9,205.7L420.4,204.4L425.2,203.9L424.4,202.8L429.3,202.6L433.6,200.5L437.2,200.5L440.2,202.3L444.6,203.1L448.8,203.1L450.7,201.8L453.4,201.5L455.1,202.8L455.9,205.2L458.5,206.5L457.8,208.5L458.7,211.4L459.6,212.9L454.5,213.2L451.5,213.2L446.9,214.3L442.3,214.0L442.3,215.6L440.9,216.3L441.3,214.5L439.8,214.5L436.7,215.3L433.5,215.8L429.2,213.7L427.4,215.6L424.2,214.0L422.0,213.5L421.6,211.1L419.5,210.1L420.4,207.7L419.0,207.0Z"/>
<path fill="#d9f0a3" d="M433.4,218.7L434.8,217.9L438.2,216.9L437.1,218.7L435.0,219.7Z"/>
<path fill="#d9f0a3" d="M446.6,196.9L449.7,196.9L454.1,197.9L457.4,198.7L461.0,200.8L461.1,202.6L458.1,202.3L455.1,202.8L453.4,201.5L450.7,201.8L450.7,200.0L449.4,198.4Z"/>
<path fill="#d9f0a3" d="M455.1,202.8L458.1,202.3L459.5,203.6L461.1,206.5L462.5,208.5L461.5,207.7L460.1,207.0L458.5,206.5L455.9,205.2Z"/>
<path fill="#d9f0a3" d="M458.1,202.3L461.1,202.6L461.0,200.8L465.2,201.0L468.0,204.1L469.8,204.6L468.3,207.5L467.9,209.8L465.8,208.8L465.4,207.0L462.5,208.5L461.1,206.5L459.5,203.6ZM458.5,206.5L460.1,207.0L461.5,207.7L460.4,208.5Z"/>
<path fill="#d9f0a3" d="M637.1,199.5L636.3,198.2L635.8,195.3L633.8,192.8L637.6,192.3L635.8,184.3L629.3,185.9L626.4,183.1L618.6,180.6L610.0,173.0L603.8,171.3L598.9,171.8L598.7,173.5L601.2,180.0L599.7,181.3L597.0,180.6L597.2,183.1L598.3,185.6L602.5,185.1L608.1,188.4L602.8,189.2L601.2,191.8L594.5,192.8L596.1,196.1L593.5,198.7L587.6,199.5L584.4,201.5L574.8,199.0L566.2,198.4L564.7,198.4L561.0,194.8L556.3,192.8L550.9,192.3L549.5,189.4L548.9,187.7L545.8,185.4L542.2,184.1L539.8,182.1L538.9,182.3L536.5,184.1L537.7,187.7L532.3,187.1L533.4,192.3L529.3,192.8L530.8,197.4L531.6,200.0L528.5,202.1L525.7,203.1L524.3,204.6L521.7,204.4L520.1,207.0L521.0,209.3L523.5,209.6L524.4,212.9L526.8,214.5L531.9,217.4L535.0,220.2L535.8,224.9L536.8,228.3L538.5,229.1L542.3,231.2L545.9,232.2L550.1,234.6L554.6,236.9L559.3,237.2L561.4,238.8L562.7,236.4L567.4,237.5L571.7,233.8L573.9,233.6L579.6,236.2L582.9,238.0L584.1,242.4L582.3,246.1L582.6,247.6L585.8,249.5L587.2,252.3L589.2,253.9L591.4,253.4L592.4,251.3L593.3,251.3L596.4,250.8L600.2,249.2L603.6,250.5L607.1,253.9L610.4,253.9L612.5,257.0L613.1,254.7L615.0,253.9L619.2,252.1L620.9,251.6L622.3,250.8L626.4,248.7L629.6,245.6L630.9,243.5L630.9,240.9L631.8,238.2L633.7,235.6L633.3,233.0L631.9,231.2L630.5,230.9L632.1,229.4L631.2,227.3L628.4,225.2L626.6,222.6L622.6,219.2L622.2,218.2L623.4,215.8L627.2,213.7L623.3,212.2L619.2,212.7L616.0,210.3L614.8,209.0L614.8,207.7L617.3,206.2L619.5,203.3L622.1,204.4L622.2,208.8L625.0,206.7L627.2,205.7L628.6,201.5L630.2,201.0L633.1,201.3L632.4,200.5L635.0,199.2L634.9,197.9ZM609.6,259.6L612.2,257.6L614.6,258.6L613.7,261.5L612.1,262.5L609.9,261.5Z"/>
<path fill="#d9f0a3" d="M634.5,244.5L635.5,244.0L636.8,244.8L636.5,249.5L635.9,252.6L633.7,250.0L633.6,248.4Z"/>
<path fill="#ffffcc" d="M539.8,182.1L543.0,179.5L547.2,178.0L553.2,180.0L558.7,179.0L557.8,174.8L565.2,176.5L567.5,178.8L574.8,179.3L580.0,181.3L586.3,181.8L591.9,179.5L597.0,180.6L597.2,183.1L598.3,185.6L602.5,185.1L608.1,188.4L602.8,189.2L601.2,191.8L594.5,192.8L596.1,196.1L593.5,198.7L587.6,199.5L584.4,201.5L574.8,199.0L566.2,198.4L564.7,198.4L561.0,194.8L556.3,192.8L550.9,192.3L549.5,189.4L548.9,187.7L545.8,185.4L542.2,184.1Z"/>
<path fill="#d9f0a3" d="M627.2,205.7L628.6,201.5L630.2,201.0L633.1,201.3L632.4,200.5L635.0,199.2L634.9,197.9L637.1,199.5L637.4,199.7L636.7,202.1L637.6,203.6L634.4,206.5L635.0,207.5L637.8,209.3L635.2,211.4L632.3,211.6L630.5,210.6L630.0,207.0L629.2,206.7Z"/>
<path fill="#ffffcc" d="M635.2,211.4L637.8,209.3L642.0,213.5L643.2,216.1L643.9,218.2L643.4,218.4L640.6,219.5L638.7,220.2L637.1,217.4L636.3,214.8ZM639.2,223.1L640.6,222.6L640.2,223.4Z"/>
<path fill="#ffffcc" d="M648.8,221.3L650.1,218.9L650.5,217.4L653.6,217.1L657.5,217.1L658.0,214.0L657.7,212.2L661.1,212.4L661.7,209.6L660.6,205.7L658.7,202.6L660.5,202.1L663.0,204.4L665.6,207.0L665.3,210.3L667.0,213.5L668.0,216.9L667.9,218.4L666.5,218.2L665.1,219.5L661.8,219.7L661.3,220.5L660.0,222.6L657.3,220.0L654.8,219.7L651.9,220.5L649.0,221.3ZM658.9,201.8L656.0,199.0L655.2,191.8L657.9,193.3L664.6,194.6L667.0,197.1L664.8,200.5L664.2,200.5L659.6,199.0L658.8,199.7ZM646.9,223.1L649.1,221.5L652.0,223.9L652.9,226.5L651.5,229.1L650.1,228.3L648.8,225.2ZM652.5,222.9L652.5,221.3L655.8,220.5L657.3,221.8L656.2,222.9L654.7,224.4L653.7,224.2Z"/>
<path fill="#d9f0a3" d="M463.6,189.4L467.3,187.9L467.9,187.7L471.5,188.2L472.5,192.0L469.0,192.8L468.9,194.1L467.5,194.3L470.8,197.9L470.1,199.2L473.7,201.0L476.6,200.0L480.3,202.3L478.9,192.8L483.9,191.5L489.7,194.6L492.4,196.6L497.5,196.4L501.9,200.5L503.8,202.6L506.9,203.1L508.8,202.3L512.2,199.7L511.8,198.4L516.8,197.9L518.3,197.4L521.6,198.4L528.5,198.4L531.6,200.0L530.8,197.4L529.3,192.8L533.4,192.3L532.3,187.1L537.7,187.7L536.5,184.1L538.9,182.3L534.7,181.1L530.4,178.3L522.7,178.0L515.0,171.8L511.4,169.5L507.3,171.0L505.4,170.0L500.7,169.5L499.3,166.8L495.3,166.8L489.5,169.0L483.5,170.0L482.4,172.3L485.1,176.8L482.3,178.0L479.4,177.5L474.3,178.5L467.1,176.3L463.4,175.8L460.0,178.5L457.2,180.0L457.8,183.8L461.4,186.4Z"/>
<path fill="#d9f0a3" d="M480.3,202.3L478.9,192.8L483.9,191.5L489.7,194.6L492.4,196.6L497.5,196.4L501.9,200.5L503.8,202.6L506.9,203.1L508.8,202.3L512.2,199.7L517.6,203.6L513.4,205.7L509.9,203.9L508.8,205.4L507.6,207.2L509.8,210.3L509.1,212.9L506.2,212.4L499.8,208.3L496.0,205.7L493.9,202.6L489.9,202.1L489.2,200.0L485.9,198.7L483.5,202.3Z"/>
<path fill="#addd8e" d="M473.7,201.0L476.6,200.0L480.3,202.3L483.5,202.3L485.9,198.7L489.2,200.0L489.9,202.1L493.9,202.6L496.0,205.7L499.8,208.3L506.2,212.4L504.4,212.2L502.7,213.2L499.6,216.3L498.4,217.9L495.8,217.1L495.1,214.5L493.3,214.5L490.7,212.2L486.0,210.3L483.2,210.6L481.1,212.4L479.2,212.7L478.3,208.3L476.1,207.0L475.4,205.7L478.8,203.1L475.2,203.1Z"/>
<path fill="#d9f0a3" d="M512.2,199.7L511.8,198.4L516.8,197.9L518.3,197.4L521.6,198.4L528.5,198.4L531.6,200.0L528.5,202.1L525.7,203.1L524.3,204.6L521.7,204.4L520.1,207.0L516.2,207.5L513.3,206.7L510.8,207.0L510.8,205.4L513.4,205.7L517.6,203.6Z"/>
<path fill="#addd8e" d="M507.6,207.2L508.8,205.4L509.9,203.9L513.4,205.7L510.8,205.4L510.8,207.0L513.3,206.7L516.2,207.5L520.1,207.0L521.0,209.3L523.5,209.6L524.4,212.9L520.8,212.4L517.7,214.3L516.6,211.1L514.0,211.9L513.8,210.9L512.4,213.2L509.1,212.9L509.8,210.3Z"/>
<path fill="#41ab5d" d="M498.0,232.0L499.5,229.1L497.1,227.8L495.9,223.9L495.2,221.3L495.8,217.1L498.4,217.9L499.6,216.3L502.7,213.2L504.4,212.2L506.2,212.4L509.1,212.9L512.4,213.2L513.8,210.9L514.0,211.9L516.6,211.1L517.7,214.3L520.8,212.4L524.4,212.9L523.8,213.7L519.9,215.3L517.9,215.3L518.0,219.2L518.2,221.0L516.1,222.1L516.2,223.6L515.6,226.8L512.1,228.1L509.5,229.6L510.2,232.0L505.1,233.3L501.7,233.3Z"/>
<path fill="#d9f0a3" d="M458.5,206.5L460.4,208.5L461.5,207.7L462.5,208.5L465.4,207.0L465.8,208.8L467.9,209.8L468.9,211.9L471.2,212.4L475.4,214.5L479.4,213.7L479.2,212.7L481.1,212.4L483.2,210.6L486.0,210.3L490.7,212.2L493.3,214.5L495.1,214.5L495.8,217.1L495.2,221.3L495.9,223.9L497.1,227.8L499.5,229.1L498.0,232.0L500.5,235.1L502.9,236.4L503.3,239.0L504.6,240.6L501.6,241.6L501.3,244.2L495.4,243.7L491.5,242.7L491.1,239.6L489.0,239.3L485.7,240.9L482.7,240.3L480.2,238.0L477.9,237.2L476.0,234.6L474.0,231.2L471.4,230.4L470.5,232.0L469.2,230.4L468.4,229.1L467.9,225.7L464.2,223.9L462.5,221.3L463.5,218.4L461.4,216.1L459.6,212.9L458.7,211.4L457.8,208.5Z"/>
<path fill="#41ab5d" d="M459.6,212.9L461.4,216.1L463.5,218.4L462.5,221.3L464.2,223.9L467.9,225.7L468.4,229.1L469.2,230.4L470.5,232.0L468.7,231.5L466.4,234.1L462.3,233.8L456.0,228.9L452.0,226.8L449.3,226.0L448.0,222.9L452.5,220.2L452.2,214.8L454.5,213.2Z"/>
<path fill="#addd8e" d="M466.4,234.1L468.7,231.5L470.5,232.0L469.9,233.6L470.8,235.6L469.2,235.6Z"/>
<path fill="#78c679" d="M440.9,216.3L442.3,215.6L442.3,214.0L446.9,214.3L451.5,213.2L454.5,213.2L452.2,214.8L452.5,220.2L448.0,222.9L444.0,225.7L441.7,224.7L441.5,222.9L443.0,220.8L441.5,219.7Z"/>
<path fill="#addd8e" d="M440.0,223.6L441.5,222.9L443.0,220.8L441.5,219.7Z"/>
<path fill="#d9f0a3" d="M438.5,228.3L440.5,233.0L441.2,228.9L441.4,227.8L441.2,224.7L441.7,224.7L441.5,222.9L440.0,223.6L439.5,226.5Z"/>
<path fill="#addd8e" d="M440.5,233.0L443.3,233.8L446.2,231.7L447.1,230.4L444.7,227.8L449.3,226.0L448.0,222.9L444.0,225.7L441.7,224.7L441.2,224.7L441.4,227.8L441.2,228.9Z"/>
<path fill="#41ab5d" d="M440.6,233.3L443.3,233.8L446.2,231.7L447.1,230.4L444.7,227.8L449.3,226.0L452.0,226.8L456.0,228.9L462.3,233.8L466.4,234.1L469.2,235.6L470.8,235.6L471.9,237.7L475.3,240.3L475.2,241.6L477.2,245.3L478.3,245.8L479.1,246.9L481.7,250.2L487.6,250.8L488.9,252.6L487.7,257.8L481.1,260.4L474.4,261.5L472.7,262.5L469.6,265.1L464.4,264.6L461.4,264.6L460.7,267.2L459.4,264.3L456.1,259.1L451.7,253.9L449.8,248.7L446.8,244.8L445.5,242.2L442.3,237.5L440.2,236.7Z"/>
<path fill="#78c679" d="M460.7,267.2L461.4,264.6L464.4,264.6L469.6,265.1L472.7,262.5L474.4,261.5L481.1,260.4L484.1,266.4L482.2,269.3L477.3,271.1L475.1,273.2L470.6,274.8L467.3,276.1L462.7,276.9L462.0,274.8L460.9,270.9Z"/>
<path fill="#78c679" d="M484.1,266.4L481.1,260.4L487.7,257.8L488.9,252.6L487.6,250.8L488.6,247.1L488.8,245.0L489.7,245.0L491.1,247.4L495.2,248.4L498.0,251.3L496.4,254.2L495.5,256.8L494.3,260.4L491.7,262.3L489.1,263.8L487.9,265.6ZM488.7,241.9L489.3,241.1L489.5,242.9Z"/>
<path fill="#addd8e" d="M479.1,246.9L481.4,246.9L484.5,246.9L487.1,244.0L488.7,241.9L489.5,242.9L489.7,245.0L488.8,245.0L488.6,247.1L487.6,250.8L481.7,250.2Z"/>
<path fill="#d9f0a3" d="M477.2,245.3L477.0,243.2L477.9,241.9L478.8,244.0L478.3,245.8Z"/>
<path fill="#d9f0a3" d="M501.3,244.2L501.6,241.6L504.6,240.6L503.3,239.0L502.9,236.4L500.5,235.1L498.0,232.0L501.7,233.3L505.1,233.3L510.2,232.0L509.5,229.6L512.1,228.1L515.6,226.8L516.2,223.6L516.1,222.1L518.2,221.0L518.0,219.2L517.9,215.3L519.9,215.3L523.8,213.7L524.4,212.9L526.8,214.5L531.9,217.4L530.5,218.7L527.6,220.0L524.2,219.5L525.0,223.9L526.5,224.4L528.5,225.7L527.2,228.9L524.8,232.2L525.0,234.3L523.1,237.2L519.9,236.9L518.4,240.1L520.4,242.9L522.1,243.7L522.6,246.3L517.7,246.6L516.6,248.2L514.4,246.6L514.0,245.3L512.2,243.7L507.8,244.2Z"/>
<path fill="#addd8e" d="M516.6,248.2L517.7,246.6L522.6,246.3L522.1,243.7L520.4,242.9L518.4,240.1L519.9,236.9L523.1,237.2L525.0,234.3L524.8,232.2L527.2,228.9L528.5,225.7L526.5,224.4L525.0,223.9L524.2,219.5L527.6,220.0L530.5,218.7L531.9,217.4L535.0,220.2L535.8,224.9L536.8,228.3L538.5,229.1L542.3,231.2L541.1,234.9L545.8,237.2L548.9,238.5L553.0,240.3L557.7,241.1L560.1,241.1L559.3,237.2L561.4,238.8L561.9,240.1L568.6,240.1L567.4,237.5L571.7,233.8L573.9,233.6L579.6,236.2L579.3,238.0L575.8,240.3L576.0,242.2L575.4,244.8L575.0,247.6L572.9,247.4L573.4,252.1L572.1,252.6L570.8,248.2L568.3,248.4L570.5,245.0L564.9,244.0L564.0,241.6L560.7,240.9L560.4,242.7L561.0,246.1L563.1,249.5L563.9,252.3L564.1,253.4L562.3,253.4L559.6,253.9L559.9,256.0L558.6,258.1L556.2,259.1L553.9,262.3L550.6,266.7L546.2,268.8L545.9,270.3L546.8,275.0L546.0,280.0L546.5,283.1L544.6,285.7L542.8,286.8L541.3,288.9L538.8,285.7L536.2,280.0L534.3,276.1L532.5,270.9L530.7,268.3L528.3,260.4L527.3,255.2L527.7,254.7L526.3,252.9L524.8,255.7L522.6,255.7L519.3,252.6L518.8,251.8L521.5,250.2Z"/>
<path fill="#ffffcc" d="M541.1,234.9L542.3,231.2L545.9,232.2L550.1,234.6L554.6,236.9L559.3,237.2L560.1,241.1L557.7,241.1L553.0,240.3L548.9,238.5L545.8,237.2Z"/>
<path fill="#78c679" d="M561.9,240.1L561.4,238.8L562.7,236.4L567.4,237.5L568.6,240.1Z"/>
<path fill="#addd8e" d="M561.0,246.1L560.4,242.7L560.7,240.9L564.0,241.6L564.9,244.0L570.5,245.0L568.3,248.4L570.8,248.2L572.1,252.6L572.4,254.4L571.9,256.0L570.2,251.8L567.4,252.6L567.0,252.9L564.1,253.4L563.9,252.3L563.1,249.5Z"/>
<path fill="#ffffcc" d="M546.3,285.0L546.8,284.4L549.7,287.8L551.5,291.0L551.3,292.3L548.6,294.6L546.9,292.3L546.6,289.1Z"/>
<path fill="#ffffcc" d="M571.9,256.0L572.4,254.4L572.1,252.6L573.4,252.1L572.9,247.4L575.0,247.6L575.4,244.8L576.0,242.2L575.8,240.3L579.3,238.0L579.6,236.2L582.9,238.0L584.1,242.4L582.3,246.1L582.6,247.6L585.8,249.5L587.2,252.3L589.2,253.9L591.4,253.4L591.5,253.9L589.7,257.0L587.2,258.3L585.2,261.7L585.3,265.6L587.5,267.2L587.2,270.3L589.7,274.0L590.2,277.1L591.3,279.2L589.6,283.4L588.8,279.7L589.0,278.7L586.5,272.2L585.5,267.5L583.4,265.6L582.5,267.2L580.4,268.8L578.1,268.3L578.0,263.8L577.2,261.7L575.5,258.9Z"/>
<path fill="#ffffcc" d="M589.7,257.0L591.1,259.1L593.3,264.3L595.0,262.5L597.9,262.0L601.2,264.3L601.9,267.2L604.0,269.3L604.1,272.4L598.4,272.7L597.3,274.5L598.9,279.5L594.3,276.9L593.9,274.8L591.8,275.0L592.0,278.7L590.7,282.9L590.9,286.0L592.5,286.0L593.6,288.1L594.0,291.2L598.1,293.8L595.8,295.1L595.5,293.6L593.4,293.0L592.4,292.0L589.1,289.1L589.2,284.4L589.6,283.4L591.3,279.2L590.2,277.1L589.7,274.0L587.2,270.3L587.5,267.2L585.3,265.6L585.2,261.7L587.2,258.3Z"/>
<path fill="#ffffcc" d="M589.7,257.0L591.5,253.9L591.4,253.4L592.4,251.3L593.3,251.3L596.0,255.2L599.5,256.3L600.6,257.3L598.7,259.4L601.9,261.5L605.5,265.6L605.9,266.7L607.9,268.3L608.4,270.3L608.6,271.6L605.3,272.4L604.1,272.4L604.0,269.3L601.9,267.2L601.2,264.3L597.9,262.0L595.0,262.5L593.3,264.3L591.1,259.1Z"/>
<path fill="#ffffcc" d="M593.3,251.3L596.4,250.8L600.2,249.2L603.6,250.5L607.1,253.9L604.4,255.7L604.4,257.3L602.9,260.4L604.9,263.0L606.9,266.2L610.0,268.3L612.7,273.5L613.3,276.6L613.4,279.7L612.7,280.5L609.3,282.9L608.1,285.2L604.8,287.6L603.9,287.6L603.9,283.9L602.9,282.9L605.9,281.3L606.6,281.3L606.0,279.2L609.3,277.9L608.6,271.6L608.4,270.3L607.9,268.3L605.9,266.7L605.5,265.6L601.9,261.5L598.7,259.4L600.6,257.3L599.5,256.3L596.0,255.2Z"/>
<path fill="#ffffcc" d="M598.9,279.5L597.3,274.5L598.4,272.7L604.1,272.4L605.3,272.4L608.6,271.6L609.3,277.9L606.0,279.2L606.6,281.3L605.9,281.3L602.9,282.9L600.5,282.3L599.5,281.3Z"/>
<path fill="#d9f0a3" d="M593.4,293.0L595.5,293.6L595.8,295.1L598.1,293.8L601.2,297.5L601.3,300.9L603.3,306.1L601.7,306.6L596.6,302.4L594.8,299.6L594.0,295.6ZM615.7,304.8L619.7,306.3L620.1,303.5L623.5,301.9L625.6,298.3L629.0,295.6L631.5,291.7L633.9,293.3L637.5,296.2L635.1,298.8L634.0,299.0L630.0,298.8L628.1,302.7L627.5,305.8L623.6,306.1L621.8,306.3L618.1,307.7Z"/>
<path fill="#78c679" d="M582.5,295.4L587.6,296.4L589.5,298.8L593.6,303.0L594.8,304.8L597.5,304.8L600.6,308.2L602.4,310.0L601.5,312.1L604.0,314.7L604.9,316.0L607.4,317.8L606.6,325.1L603.9,325.1L603.7,324.4L599.2,320.7L598.8,320.2L595.7,316.0L594.4,312.3L591.4,307.9L590.6,305.6L587.8,302.7L585.4,300.3L583.0,297.5ZM605.1,327.7L607.3,325.4L612.7,327.2L618.0,326.7L622.1,328.0L626.3,330.1L626.0,332.4L622.8,331.7L616.0,330.9L613.0,330.1L608.0,329.3ZM626.3,331.1L629.0,331.7L627.8,333.0ZM629.7,331.7L631.3,332.2L630.0,333.2ZM631.5,332.2L636.6,331.7L636.2,333.0L631.8,333.5ZM638.6,331.9L645.6,331.4L645.2,332.7L638.8,333.0ZM636.3,334.8L640.4,335.8L638.4,336.9ZM646.5,336.9L649.0,334.0L650.2,333.5L650.1,334.8L648.6,336.6ZM614.4,306.1L615.7,304.8L618.1,307.7L621.8,306.3L623.6,306.1L627.5,305.8L628.1,302.7L630.0,298.8L634.0,299.0L635.1,304.3L634.7,307.4L637.5,307.4L634.0,312.1L631.7,313.9L631.6,317.8L630.3,319.4L627.1,320.7L623.5,318.3L620.7,319.1L617.1,317.6L616.9,314.4L614.7,311.3L614.4,309.2ZM637.9,324.6L640.2,324.4L640.3,317.6L642.0,317.0L644.7,322.5L646.1,321.5L645.4,318.3L643.2,315.0L647.4,312.6L647.6,312.3L643.2,312.3L641.8,313.7L640.0,311.8L639.8,308.7L642.1,308.7L646.7,309.0L649.9,309.0L651.7,306.1L650.1,306.6L646.7,307.5L642.1,306.6L640.0,307.1L639.3,309.5L638.6,312.6L638.0,318.9L636.9,317.0ZM656.8,307.4L658.1,304.3L659.8,306.3L659.6,309.2L658.2,311.3L657.5,309.2ZM658.0,317.8L664.5,317.8L664.5,318.9L661.5,319.1L658.0,318.9ZM653.4,318.3L656.2,318.6L655.2,319.9ZM664.9,313.4L665.1,312.1L668.4,311.0L672.0,312.1L672.4,316.3L673.0,317.3L675.3,318.9L677.2,315.7L681.0,313.9L684.6,315.7L688.0,316.8L686.9,333.7L684.6,331.1L681.4,331.9L680.4,329.6L682.1,327.7L680.7,324.4L676.3,322.0L671.8,320.2L670.4,320.4L669.0,320.7L669.3,319.1L667.5,317.6L671.2,316.5L668.0,315.7L665.8,313.9ZM671.9,325.7L673.1,324.6L672.7,327.2ZM665.0,329.6L666.0,328.8L665.4,330.9Z"/>
<path fill="#d9f0a3" d="M650.2,333.5L655.6,331.9L654.6,333.0L650.1,334.8Z"/>
<path fill="#d9f0a3" d="M625.9,298.0L628.6,297.0L628.2,298.8L627.1,299.3Z"/>
<path fill="#d9f0a3" d="M636.9,261.7L640.5,261.7L641.9,265.6L641.5,267.5L640.3,270.1L641.1,272.7L643.4,272.7L646.6,274.0L647.2,277.1L645.2,276.1L643.3,275.0L641.3,273.7L639.8,274.5L638.7,272.9L639.2,271.9L637.0,270.9L636.3,267.5L637.3,266.7ZM643.9,292.0L643.6,289.6L646.6,287.3L647.6,288.9L649.8,286.8L651.2,284.4L653.3,287.8L654.2,291.0L653.5,293.6L652.4,294.3L651.7,295.4L648.9,293.8L648.3,291.7L646.6,290.7ZM647.9,277.4L650.0,277.4L651.3,280.8L650.4,283.4L649.5,283.4L648.3,280.8ZM642.7,279.5L645.5,280.0L646.5,283.9L645.6,286.3L644.1,284.7L644.8,282.6L643.0,282.6ZM646.2,282.9L647.4,280.8L647.9,283.4L646.9,285.2ZM632.4,288.1L637.2,282.3L637.5,280.5L636.9,283.9L633.5,287.3ZM638.5,275.0L641.1,275.6L640.6,277.9L639.7,277.4Z"/>
<path fill="#d9f0a3" d="M391.3,325.4L392.0,323.3L393.1,322.0L396.3,322.8L396.4,321.2L398.4,321.2L400.1,317.8L400.5,315.7L401.2,312.6L404.2,311.0L404.5,307.4L404.9,304.3L406.0,300.9L405.8,298.8L408.1,296.7L411.5,298.8L415.0,299.3L417.3,297.7L419.6,296.7L421.9,296.2L426.3,296.7L428.6,298.8L431.6,298.3L434.1,300.9L435.3,304.3L434.4,304.3L431.7,307.9L431.4,311.3L431.4,313.7L430.0,317.0L430.5,318.6L430.9,321.5L431.3,326.4L433.1,328.8L434.0,331.7L429.6,332.2L428.4,334.3L428.8,337.4L428.2,340.8L430.7,342.4L431.4,341.8L431.3,345.0L428.4,343.4L426.2,342.1L422.7,341.0L421.2,340.3L419.1,339.7L418.2,338.4L414.3,339.2L414.1,335.8L413.3,329.0L410.3,328.3L408.0,329.6L406.9,330.9L403.4,331.1L401.4,325.4L396.6,325.4L393.1,325.4Z"/>
<path fill="#41ab5d" d="M350.4,216.6L351.7,216.3L356.7,217.9L358.4,218.4L359.3,219.5L359.5,222.6L360.6,225.7L356.6,227.3L355.3,229.4L352.1,231.7L351.0,232.5L347.7,233.0L343.9,235.1L343.8,237.7L333.8,237.7L338.8,234.9L341.0,233.3L341.6,230.2L341.6,228.1L342.8,225.2L344.6,223.1L348.4,221.0L349.7,218.4Z"/>
<path fill="url(#h)" d="M333.8,237.7L343.8,237.7L343.8,238.8L343.7,242.2L336.4,242.2L336.2,248.7L333.9,250.0L333.8,254.4L324.7,255.7L326.5,251.3L327.2,248.2L329.5,245.3L330.1,242.9L331.0,241.4L332.8,239.8Z"/>
<path fill="#addd8e" d="M324.7,255.7L333.8,254.4L333.9,250.0L336.2,248.7L336.4,242.2L343.7,242.2L343.8,238.8L349.8,243.2L349.8,257.8L350.4,267.2L350.7,269.6L342.0,269.6L338.8,269.8L337.0,269.3L335.4,271.4L332.7,268.0L330.2,266.7L326.1,266.9L325.6,268.0L326.1,264.3L326.9,261.7L326.5,259.6L325.9,256.5Z"/>
<path fill="#addd8e" d="M358.4,218.4L363.2,216.3L366.4,214.8L369.7,213.7L375.1,214.0L379.4,213.2L381.7,213.7L380.9,216.1L381.3,219.5L379.6,221.5L380.3,223.4L383.0,226.2L384.2,231.2L385.2,236.2L385.1,240.9L385.7,246.1L389.0,246.6L390.2,248.7L380.2,255.5L376.3,259.1L372.7,260.2L370.4,258.3L367.3,257.0L365.9,254.9L352.4,244.8L343.8,238.8L343.8,237.7L343.9,235.1L347.7,233.0L351.0,232.5L352.1,231.7L355.3,229.4L356.6,227.3L360.6,225.7L359.5,222.6L359.3,219.5Z"/>
<path fill="#addd8e" d="M381.7,213.7L384.3,212.7L385.4,214.0L387.1,213.7L386.2,217.4L387.1,218.2L385.2,220.5L387.0,222.1L388.4,223.4L388.4,225.5L385.9,227.3L384.2,231.2L383.0,226.2L380.3,223.4L379.6,221.5L381.3,219.5L380.9,216.1Z"/>
<path fill="#78c679" d="M388.4,223.4L391.7,224.2L396.6,225.5L397.3,227.8L401.8,229.4L405.2,230.9L407.3,229.1L407.3,225.7L410.3,224.2L413.9,224.9L418.4,227.5L418.7,233.8L419.6,252.6L419.8,257.8L417.5,257.8L417.6,259.1L399.2,248.9L397.0,250.0L395.2,251.0L390.2,248.7L389.0,246.6L385.7,246.1L385.1,240.9L385.2,236.2L384.2,231.2L385.9,227.3L388.4,225.5Z"/>
<path fill="#238443" d="M418.4,227.5L422.7,228.3L427.2,229.4L431.5,227.8L434.4,228.3L438.5,228.3L440.5,233.0L440.0,236.9L439.6,237.5L437.7,235.6L435.4,232.0L435.8,234.3L438.1,238.2L440.4,242.7L443.0,247.6L443.6,250.0L446.4,252.6L419.6,252.6L418.7,233.8Z"/>
<path fill="#005a32" d="M419.6,252.6L446.4,252.6L447.5,255.2L447.5,259.1L450.7,263.0L448.5,265.1L447.2,266.4L446.5,270.9L446.3,272.2L445.8,276.9L443.6,279.2L441.9,282.3L441.5,285.2L441.0,283.4L439.1,282.1L439.2,278.2L438.1,278.2L436.7,278.7L437.2,279.5L435.3,284.4L433.9,284.7L430.9,284.4L429.8,285.0L427.2,285.0L424.0,285.0L420.8,283.1L420.1,284.4L418.3,287.3L417.2,287.3L417.1,283.9L415.7,281.6L415.7,280.3L414.7,277.1L413.1,277.1L414.2,275.0L414.6,273.2L414.8,270.9L417.9,269.0L417.6,259.1L417.5,257.8L419.8,257.8Z"/>
<path fill="#ffffcc" d="M418.3,287.3L420.1,284.4L420.8,283.1L424.0,285.0L427.2,285.0L429.8,285.0L430.9,284.4L433.9,284.7L435.3,284.4L437.2,279.5L436.7,278.7L438.1,278.2L439.2,278.2L439.1,282.1L441.0,283.4L441.5,285.2L441.5,287.6L441.1,288.1L439.0,289.6L439.7,289.1L443.0,292.5L443.7,295.6L445.8,298.0L441.5,299.0L440.3,300.1L436.7,300.6L434.1,300.9L431.6,298.3L428.6,298.8L426.3,296.7L424.2,294.3L421.4,291.7L418.8,288.3Z"/>
<path fill="#ffffcc" d="M450.7,263.0L452.8,268.5L454.5,270.9L457.3,272.2L460.2,275.6L461.8,276.9L460.2,277.4L458.6,276.1L456.4,273.2L452.5,271.9L450.9,272.4L449.7,271.1L449.1,272.9L446.3,272.2L446.5,270.9L447.2,266.4L448.5,265.1Z"/>
<path fill="#ffffcc" d="M461.8,276.9L462.4,279.0L462.4,280.0L461.3,281.6L459.0,281.3L458.7,279.7L460.2,277.4Z"/>
<path fill="#ffffcc" d="M446.3,272.2L449.1,272.9L449.7,271.1L450.9,272.4L452.5,271.9L456.4,273.2L458.6,276.1L460.2,277.4L458.7,279.7L459.0,281.3L461.3,281.6L461.9,283.9L464.2,286.5L471.0,289.1L473.3,289.1L466.8,297.0L462.2,299.0L459.7,299.8L457.8,299.8L457.1,299.0L454.2,301.1L450.9,300.6L448.2,298.5L446.1,298.5L445.8,298.0L443.7,295.6L443.0,292.5L439.0,289.6L441.1,288.1L441.5,287.6L441.5,285.2L441.9,282.3L443.6,279.2L445.8,276.9Z"/>
<path fill="#ffffcc" d="M461.3,281.6L462.4,280.0L464.8,282.9L469.8,281.8L475.3,280.5L480.2,278.7L480.6,282.6L479.8,285.5L477.6,289.6L475.9,294.3L473.7,298.3L469.2,303.7L465.8,306.6L463.5,308.7L459.1,314.4L457.7,312.3L457.7,302.7L459.7,299.8L462.2,299.0L466.8,297.0L473.3,289.1L471.0,289.1L464.2,286.5L461.9,283.9Z"/>
<path fill="#ffffcc" d="M459.1,314.4L455.8,317.0L453.4,322.3L450.0,318.1L449.8,317.8L441.6,312.6L441.6,310.0L442.7,307.1L443.8,305.0L441.5,299.0L445.8,298.0L446.1,298.5L448.2,298.5L450.9,300.6L454.2,301.1L457.1,299.0L457.8,299.8L459.7,299.8L457.7,302.7L457.7,312.3Z"/>
<path fill="#ffffcc" d="M434.1,300.9L436.7,300.6L440.3,300.1L441.5,299.0L443.8,305.0L442.7,307.1L441.6,310.0L441.6,312.6L433.5,312.6L431.4,313.7L431.4,311.3L431.7,307.9L434.4,304.3L435.3,304.3Z"/>
<path fill="#ffffcc" d="M453.4,322.3L452.4,327.0L454.0,328.3L453.5,331.7L454.5,336.1L455.9,337.1L450.3,339.5L449.1,340.5L445.2,339.7L443.1,340.3L442.5,340.0L441.9,335.3L441.0,334.8L438.7,334.5L434.4,332.4L433.1,328.8L431.3,326.4L430.9,321.5L434.1,318.6L433.2,316.3L434.2,316.0L433.5,312.6L441.6,312.6L449.8,317.8L450.0,318.1Z"/>
<path fill="#ffffcc" d="M431.4,313.7L433.5,312.6L434.2,316.0L433.2,316.3L432.1,317.3L430.0,317.0Z"/>
<path fill="#ffffcc" d="M430.0,317.0L432.1,317.3L433.2,316.3L434.1,318.6L430.9,321.5L430.5,318.6Z"/>
<path fill="#d9f0a3" d="M391.5,325.9L393.1,325.4L401.4,325.4L403.4,331.1L406.9,330.9L408.0,329.6L410.3,328.3L413.3,329.0L414.1,335.8L414.3,339.2L418.2,338.4L418.1,343.9L413.5,343.9L413.3,352.3L416.4,355.9L411.8,357.0L405.3,355.4L395.0,355.4L390.0,355.1L390.1,351.2L391.8,345.0L394.8,338.7L394.6,337.9L392.8,333.2L394.0,332.2L392.6,328.0ZM390.8,323.0L392.0,323.3L393.1,322.0L392.2,321.5L391.3,324.9Z"/>
<path fill="#d9f0a3" d="M418.2,338.4L418.1,343.9L413.5,343.9L413.3,352.3L416.4,355.9L420.7,356.4L424.5,356.7L429.1,351.7L432.5,350.7L432.1,348.6L439.1,346.5L437.9,345.5L438.7,342.6L439.5,340.3L439.5,338.2L438.7,334.5L434.4,332.4L434.0,331.7L429.6,332.2L428.4,334.3L428.8,337.4L428.2,340.8L430.7,342.4L431.4,341.8L431.3,345.0L428.4,343.4L426.2,342.1L422.7,341.0L421.2,340.3L419.1,339.7Z"/>
<path fill="#ffffcc" d="M438.7,334.5L441.0,334.8L441.9,335.3L442.5,340.0L443.1,340.3L442.0,341.8L442.3,345.2L445.1,348.9L444.8,351.7L443.5,354.6L441.4,351.7L441.7,348.1L439.1,346.5L437.9,345.5L438.7,342.6L439.5,340.3L439.5,338.2Z"/>
<path fill="#ffffcc" d="M455.9,337.1L456.1,342.6L456.4,347.8L454.3,352.5L451.9,354.4L447.3,356.7L445.5,359.3L442.2,361.7L443.3,367.4L443.0,372.6L437.1,376.3L436.8,377.8L436.6,380.2L434.9,379.9L434.8,377.3L434.8,373.4L433.8,368.4L436.4,365.6L437.9,361.7L437.6,359.1L438.2,355.1L438.1,353.6L435.0,352.3L432.5,351.7L432.5,350.7L432.1,348.6L439.1,346.5L441.7,348.1L441.4,351.7L443.5,354.6L444.8,351.7L445.1,348.9L442.3,345.2L442.0,341.8L443.1,340.3L445.2,339.7L449.1,340.5L450.3,339.5Z"/>
<path fill="#ffffcc" d="M420.7,356.4L424.5,356.7L429.1,351.7L432.5,350.7L432.5,351.7L435.0,352.3L438.1,353.6L438.2,355.1L437.6,359.1L437.9,361.7L436.4,365.6L433.8,368.4L429.5,367.9L426.4,366.4L425.9,363.5L422.6,361.1L420.6,358.5Z"/>
<path fill="#addd8e" d="M408.3,367.4L408.1,374.7L409.6,379.9L413.8,378.1L414.7,376.0L418.5,377.1L420.5,376.8L423.6,373.1L423.9,371.6L427.0,369.0L429.5,367.9L426.4,366.4L425.9,363.5L422.6,361.1L420.6,358.5L420.7,356.4L418.9,357.0L416.6,357.0L410.9,357.7L410.6,367.4Z"/>
<path fill="#d9f0a3" d="M390.0,355.1L395.0,355.4L405.3,355.4L411.8,357.0L416.4,355.9L420.7,356.4L418.9,357.0L416.6,357.0L410.9,357.7L410.6,367.4L408.3,367.4L408.1,374.7L407.7,384.1L405.4,385.4L402.3,384.9L399.9,384.6L397.1,380.4L395.8,372.6L395.9,368.7L393.5,364.5L390.0,357.0Z"/>
<path fill="#78c679" d="M399.9,384.6L402.3,384.9L405.4,385.4L407.7,384.1L408.1,374.7L409.6,379.9L413.8,378.1L414.7,376.0L418.5,377.1L420.5,376.8L423.6,373.1L423.9,371.6L427.0,369.0L429.5,367.9L433.8,368.4L434.8,373.4L434.8,377.3L434.9,379.9L436.6,380.2L435.4,384.4L433.0,386.4L430.8,389.8L429.3,391.7L425.3,395.1L423.4,396.9L419.3,398.7L417.0,399.2L412.3,399.0L406.7,400.8L404.1,399.8L403.3,399.5L403.3,396.1L403.2,392.7L401.4,389.6L400.9,387.5Z"/>
<path fill="#d9f0a3" d="M423.0,387.2L426.5,384.9L428.4,387.0L426.1,389.8L424.0,389.6Z"/>
<path fill="#d9f0a3" d="M432.0,379.1L433.3,377.3L434.8,377.8L434.9,379.9L433.0,381.2L432.2,380.4Z"/>
<path fill="#ffffcc" d="M476.1,341.3L478.4,350.4L475.7,355.7L475.4,357.0L472.9,363.5L470.9,368.7L468.9,375.0L465.1,376.8L461.9,375.2L460.8,368.7L461.4,366.1L464.0,361.7L463.1,357.0L464.3,352.5L468.7,351.2L471.6,348.6L472.9,345.2L474.9,342.6Z"/>
<path fill="#d9f0a3" d="M394.1,274.3L394.0,272.2L398.5,266.2L398.2,256.0L397.0,250.0L399.2,248.9L417.6,259.1L417.9,269.0L414.8,270.9L414.6,273.2L414.2,275.0L413.1,277.1L414.7,277.1L415.7,280.3L415.7,281.6L413.0,282.3L410.0,286.3L406.6,287.0L403.4,289.4L398.8,290.4L397.7,287.8L397.8,284.2L395.8,283.9L397.8,281.3L397.3,276.9L395.4,275.8L394.3,274.3Z"/>
<path fill="#d9f0a3" d="M363.7,270.9L366.2,270.1L371.2,269.8L372.8,265.9L372.7,260.2L376.3,259.1L380.2,255.5L390.2,248.7L395.2,251.0L397.0,250.0L398.2,256.0L398.5,266.2L394.0,272.2L394.1,274.3L394.3,274.3L391.8,275.8L386.5,275.3L383.8,276.6L379.4,276.1L375.8,273.7L372.6,274.8L371.4,279.5L369.6,277.6L368.7,277.9L368.2,277.4L365.5,275.3L364.1,273.5Z"/>
<path fill="#d9f0a3" d="M335.4,271.4L337.0,269.3L338.8,269.8L342.0,269.6L350.7,269.6L350.4,267.2L349.8,257.8L349.8,243.2L352.4,244.8L365.9,254.9L367.3,257.0L370.4,258.3L372.7,260.2L372.8,265.9L371.2,269.8L366.2,270.1L363.7,270.9L361.6,270.6L358.6,272.9L356.8,273.5L355.2,275.6L353.4,275.6L353.1,277.4L351.3,279.0L350.6,282.9L349.0,282.6L347.1,283.4L344.8,283.4L344.2,281.3L343.3,279.2L341.9,277.6L339.6,278.2L337.1,278.4L337.1,277.6L337.1,275.0L335.8,273.5Z"/>
<path fill="#d9f0a3" d="M325.6,268.0L326.1,266.9L330.2,266.7L332.7,268.0L335.4,271.4L335.8,273.5L337.1,275.0L337.1,277.6L335.0,277.9L331.8,277.1L328.4,276.9L325.0,277.6L324.8,275.8L323.3,271.6Z"/>
<path fill="#d9f0a3" d="M324.8,275.8L324.8,274.8L328.9,274.3L331.7,274.8L331.6,275.6L328.9,275.3Z"/>
<path fill="#ffffcc" d="M325.0,277.6L328.4,276.9L331.8,277.1L331.8,279.5L328.8,281.6Z"/>
<path fill="#ffffcc" d="M328.8,281.6L331.8,279.5L331.8,277.1L335.0,277.9L337.1,277.6L337.1,278.4L339.6,278.2L341.9,277.6L343.3,279.2L344.2,281.3L344.8,283.4L344.1,286.5L345.3,287.8L343.7,290.2L342.5,291.0L341.4,288.1L339.5,287.8L338.9,285.7L337.5,283.9L334.5,284.2L332.7,286.5L331.1,283.9Z"/>
<path fill="#d9f0a3" d="M332.7,286.5L334.5,284.2L337.5,283.9L338.9,285.7L339.5,287.8L336.8,292.0L334.5,290.7L332.9,288.6Z"/>
<path fill="#d9f0a3" d="M336.8,292.0L339.5,287.8L341.4,288.1L342.5,291.0L343.7,290.2L344.1,293.0L345.9,294.9L345.9,298.5L342.5,297.0L338.4,293.6Z"/>
<path fill="#d9f0a3" d="M345.9,298.5L345.9,294.9L344.1,293.0L343.7,290.2L345.3,287.8L344.1,286.5L344.8,283.4L347.1,283.4L349.0,282.6L350.6,282.9L352.9,284.7L356.8,285.2L357.5,288.6L355.8,292.3L356.8,296.7L352.8,296.4L349.4,297.5Z"/>
<path fill="#ffffcc" d="M350.6,282.9L351.3,279.0L353.1,277.4L353.4,275.6L355.2,275.6L356.8,273.5L358.6,272.9L361.6,270.6L363.7,270.9L364.1,273.5L365.5,275.3L368.2,277.4L368.2,279.0L365.3,281.3L362.1,281.3L356.8,281.3L356.8,285.2L352.9,284.7Z"/>
<path fill="#d9f0a3" d="M356.8,296.7L355.8,292.3L357.5,288.6L356.8,285.2L356.8,281.3L362.1,281.3L363.7,281.3L363.2,282.3L364.3,285.2L364.1,287.0L364.6,291.7L366.0,294.1L363.2,295.4L359.7,297.0Z"/>
<path fill="#ffffcc" d="M366.0,294.1L364.6,291.7L364.1,287.0L364.3,285.2L363.2,282.3L363.7,281.3L365.3,281.3L365.3,283.9L366.4,285.7L366.9,291.7L366.9,293.8Z"/>
<path fill="#ffffcc" d="M366.9,293.8L366.9,291.7L366.4,285.7L365.3,283.9L365.3,281.3L368.2,279.0L368.2,277.4L368.7,277.9L369.6,277.6L371.4,279.5L371.9,282.6L370.3,286.5L369.4,289.6L369.4,293.3Z"/>
<path fill="#d9f0a3" d="M369.4,293.3L369.4,289.6L370.3,286.5L371.9,282.6L371.4,279.5L372.6,274.8L375.8,273.7L379.4,276.1L383.8,276.6L386.5,275.3L391.8,275.8L394.3,274.3L395.4,275.8L395.7,277.6L396.6,280.0L394.2,282.6L393.5,285.0L392.6,287.3L390.8,290.4L389.2,292.8L387.6,291.7L386.2,292.0L384.6,293.3L382.8,298.3L379.3,298.5L377.0,298.8L374.7,295.4L373.6,293.6Z"/>
<path fill="#d9f0a3" d="M382.8,298.3L384.6,293.3L386.2,292.0L387.6,291.7L389.2,292.8L390.8,290.4L392.6,287.3L393.5,285.0L394.2,282.6L396.6,280.0L395.7,277.6L395.4,275.8L397.3,276.9L397.8,281.3L395.8,283.9L397.8,284.2L397.7,287.8L398.8,290.4L396.6,294.3L396.8,297.0L397.7,300.1L400.3,304.3L400.3,305.6L393.8,304.3L389.2,304.3L385.8,304.0L385.5,300.9L385.1,299.6L383.7,298.3Z"/>
<path fill="#d9f0a3" d="M398.8,290.4L403.4,289.4L406.6,287.0L410.0,286.3L413.0,282.3L415.7,281.6L417.1,283.9L417.2,287.3L418.3,287.3L418.8,288.3L421.4,291.7L424.2,294.3L426.3,296.7L421.9,296.2L419.6,296.7L417.3,297.7L415.0,299.3L411.5,298.8L408.1,296.7L405.8,298.8L406.0,300.9L403.5,300.6L401.2,301.7L400.3,304.3L397.7,300.1L396.8,297.0L396.6,294.3Z"/>
<path fill="#d9f0a3" d="M385.8,304.0L389.2,304.3L389.2,307.4L385.3,307.4Z"/>
<path fill="#ffffcc" d="M385.3,307.4L389.2,307.4L389.2,304.3L393.8,304.3L393.9,306.6L396.6,306.3L396.4,311.3L396.4,315.0L396.4,316.3L392.0,316.0L390.6,316.3L389.9,319.1L388.8,320.2L385.8,316.5L383.5,311.8L384.6,309.2Z"/>
<path fill="#d9f0a3" d="M388.8,320.2L389.9,319.1L390.6,316.3L392.0,316.0L396.4,316.3L396.4,315.0L396.4,311.3L396.6,306.3L393.9,306.6L393.8,304.3L400.3,305.6L400.3,304.3L401.2,301.7L403.5,300.6L406.0,300.9L404.9,304.3L404.5,307.4L404.2,311.0L401.2,312.6L400.5,315.7L400.1,317.8L398.4,321.2L396.4,321.2L396.3,322.8L393.1,322.0L392.2,321.5L390.8,323.0Z"/>
<path fill="#d9f0a3" d="M462.4,340.0L462.8,341.0L462.1,341.0ZM464.6,341.8L465.1,342.4L464.6,342.4Z"/>
<path fill="#addd8e" d="M493.1,362.4L494.0,363.0L493.3,363.5Z"/>
<path fill="#addd8e" d="M490.5,321.7L491.4,321.7L490.9,322.8Z"/>
<path fill="#d9f0a3" d="M378.2,309.2L378.6,309.5L378.4,310.0Z"/>
<path fill="#d9f0a3" d="M309.1,270.3L309.8,270.9L309.3,271.1Z"/>
<path fill="#ffffcc" d="M619.3,367.4L620.9,366.9L624.2,364.8L627.2,363.5L631.3,363.0L633.7,362.2L637.8,360.9L640.7,357.5L641.2,354.4L644.0,355.1L644.7,352.8L646.8,352.5L648.9,349.1L651.5,346.8L653.4,346.3L655.3,348.6L658.7,348.9L659.7,345.2L662.1,342.4L666.6,341.3L667.0,340.0L672.3,341.8L676.2,341.3L674.1,345.2L672.5,348.6L675.5,351.2L679.3,355.1L683.3,355.7L686.3,349.1L687.1,345.2L688.1,341.3L689.9,337.9L691.6,342.6L691.6,347.3L694.7,349.1L694.5,353.1L694.9,359.1L697.4,360.9L699.9,363.0L700.5,367.4L702.6,370.8L705.7,375.8L705.1,380.4L704.5,384.6L700.6,390.9L697.5,394.8L693.0,398.7L688.2,403.9L685.9,407.3L680.8,408.9L675.5,411.7L673.5,409.7L669.8,411.2L666.3,409.9L664.1,407.8L665.3,403.4L662.7,402.9L664.7,400.0L665.0,396.1L665.3,395.3L662.1,398.7L658.8,401.1L657.5,400.5L657.1,396.1L654.4,393.5L651.5,392.5L647.0,392.7L639.8,394.3L634.7,396.1L632.7,398.5L627.3,398.5L623.5,399.8L619.5,401.6L615.3,401.1L613.8,399.5L617.5,393.5L617.7,389.6L617.9,384.4L617.0,378.4L618.0,373.9ZM669.5,416.1L672.6,417.2L676.5,416.7L674.5,420.0L671.7,422.6L668.3,423.6L667.7,420.8ZM659.1,403.1L661.7,403.1L660.6,404.2L658.8,403.9ZM661.8,339.7L664.3,339.5L663.2,341.0L661.6,340.8Z"/>
<path fill="#d9f0a3" d="M739.3,399.8L740.8,403.1L740.0,406.3L742.7,405.7L741.4,408.1L745.7,408.1L746.6,408.4L742.4,412.3L740.3,412.8L737.8,415.6L732.4,418.5L732.0,417.7L734.8,415.1L733.7,412.5L736.3,411.2L738.4,408.6L739.5,405.0L738.8,401.8ZM729.1,415.6L731.1,417.4L729.7,419.0L724.8,422.1L723.1,424.1L719.1,425.2L714.7,429.3L709.9,431.3L707.5,431.3L705.0,429.8L706.1,428.8L711.7,425.4L715.0,423.9L719.7,421.8L723.2,419.5L726.9,416.7ZM705.2,432.1L706.6,432.1L705.4,433.1Z"/>
<path fill="#addd8e" d="M688.0,316.8L691.4,318.3L696.0,319.9L698.8,323.0L698.7,324.4L702.5,325.7L703.1,327.5L701.6,328.3L703.3,330.9L703.6,332.4L707.0,334.8L708.9,336.9L707.2,337.7L702.5,336.4L700.8,334.8L698.7,330.9L695.5,329.8L692.4,331.7L692.2,333.5L690.5,334.3L686.9,333.7ZM704.4,324.9L708.8,324.4L711.4,323.0L713.8,321.2L714.0,322.8L712.0,324.6L709.4,326.2L705.9,326.2ZM710.4,316.8L713.9,319.4L715.4,322.0L714.6,320.4ZM719.2,324.4L721.7,327.7L720.3,327.2ZM701.0,315.2L702.8,315.5L701.9,316.0Z"/>
<path fill="url(#h)" d="M734.4,362.4L737.2,364.8L739.7,368.2L738.6,368.2L735.0,364.8Z"/>
<path fill="#238443" d="M729.8,334.3L732.2,335.6L731.7,335.8L729.7,335.0ZM732.1,331.9L733.6,334.8L732.9,335.0L731.8,332.7ZM727.3,329.6L730.3,331.9L729.8,332.2L727.2,330.4ZM722.9,327.2L725.3,329.0L724.8,329.3L722.8,328.0ZM733.2,336.9L735.3,337.9L734.1,338.2ZM724.4,330.9L726.1,332.2L725.2,332.4Z"/>
<path fill="#d9f0a3" d="M743.4,348.6L744.5,350.4L743.9,351.0L743.0,349.7ZM744.4,351.7L745.3,353.1L744.3,353.3ZM745.6,355.7L746.1,356.4L745.4,356.4ZM747.1,358.8L747.3,359.6L746.7,359.6Z"/>
<path fill="#005a32" d="M766.3,355.7L769.2,355.7L768.8,357.5L766.0,357.5ZM769.7,353.8L773.0,352.3L772.8,353.3L770.9,354.4Z"/>
<path fill="#d9f0a3" d="M-31.6,345.2L-30.4,345.5L-31.0,346.0ZM-29.6,346.3L-28.6,346.5L-29.3,346.8Z"/>
<path fill="#addd8e" d="M-32.9,365.1L-32.1,365.3L-32.5,365.6Z"/>
<path fill="#addd8e" d="M0.3,305.0L1.0,305.3L0.5,305.6Z"/>
<path fill="#78c679" d="M726.7,291.7L727.4,292.0L727.0,292.3ZM711.9,290.7L712.4,290.7L712.2,291.0ZM672.3,290.4L672.8,290.2L672.6,291.0ZM694.0,275.0L694.4,274.5L694.5,275.3Z"/>
</g>
<!-- legend -->
<g font-family="Liberation Sans, sans-serif" font-size="13.7" fill="#5b5b5b">
<rect x="186.4" y="517.2" width="47.4" height="11.2" fill="url(#h)" stroke="#c4c4c4" stroke-width="0.9"/>
<line x1="210" y1="514" x2="210" y2="518" stroke="#c8c8c8" stroke-width="0.8"/>
<text x="210" y="510" text-anchor="middle">No data</text>
<rect x="253.4" y="517" width="58.6" height="11.5" fill="#ffffcc"/>
<rect x="312" y="517" width="58.6" height="11.5" fill="#d9f0a3"/>
<rect x="370.6" y="517" width="58.6" height="11.5" fill="#addd8e"/>
<rect x="429.2" y="517" width="58.6" height="11.5" fill="#78c679"/>
<rect x="487.8" y="517" width="58.6" height="11.5" fill="#41ab5d"/>
<rect x="546.4" y="517" width="58.6" height="11.5" fill="#238443"/>
<path d="M605,517H658.6L663.8,522.75L658.6,528.5H605Z" fill="#005a32"/>
<path d="M253.4,517H658.6L663.8,522.75L658.6,528.5H253.4Z" fill="none" stroke="#bdbdbd" stroke-width="0.6"/>
<g stroke="#000" stroke-opacity="0.12" stroke-width="0.7"><line x1="312" y1="517" x2="312" y2="528.5"/><line x1="370.6" y1="517" x2="370.6" y2="528.5"/><line x1="429.2" y1="517" x2="429.2" y2="528.5"/><line x1="487.8" y1="517" x2="487.8" y2="528.5"/><line x1="546.4" y1="517" x2="546.4" y2="528.5"/><line x1="605" y1="517" x2="605" y2="528.5"/></g>
<g stroke="#bdbdbd" stroke-width="0.8">
<line x1="253.4" y1="514" x2="253.4" y2="528.5"/><line x1="312" y1="514" x2="312" y2="517.3"/><line x1="370.6" y1="514" x2="370.6" y2="517.3"/><line x1="429.2" y1="514" x2="429.2" y2="517.3"/><line x1="487.8" y1="514" x2="487.8" y2="517.3"/><line x1="546.4" y1="514" x2="546.4" y2="517.3"/><line x1="605" y1="514" x2="605" y2="517.3"/>
</g>
<text x="253.4" y="510" text-anchor="middle">0</text>
<text x="312" y="510" text-anchor="middle">5</text>
<text x="370.6" y="510" text-anchor="middle">10</text>
<text x="429.2" y="510" text-anchor="middle">15</text>
<text x="487.8" y="510" text-anchor="middle">20</text>
<text x="546.4" y="510" text-anchor="middle">25</text>
<text x="605" y="510" text-anchor="middle">30</text>
</g>
</svg>
<div id="title">Death rate due to low physical activity, 2023</div>
<div id="sub">Estimated annual number of deaths attributed to low physical activity per 100,000 people.</div>
<div id="logo">Our World<br>in Data</div>
<div class="ft" style="left:16.5px;top:549px;font-size:12.55px;"><b>Data source:</b> IHME, Global Burden of Disease (2025)</div>
<div class="ft" style="right:19.5px;top:549px;">OurWorldinData.org/causes-of-death | CC BY</div>
<div class="ft" style="left:16.5px;top:569px;"><b>Note:</b> To allow for comparisons between countries and over time, this metric is age-standardized.</div>
</body>
</html>
